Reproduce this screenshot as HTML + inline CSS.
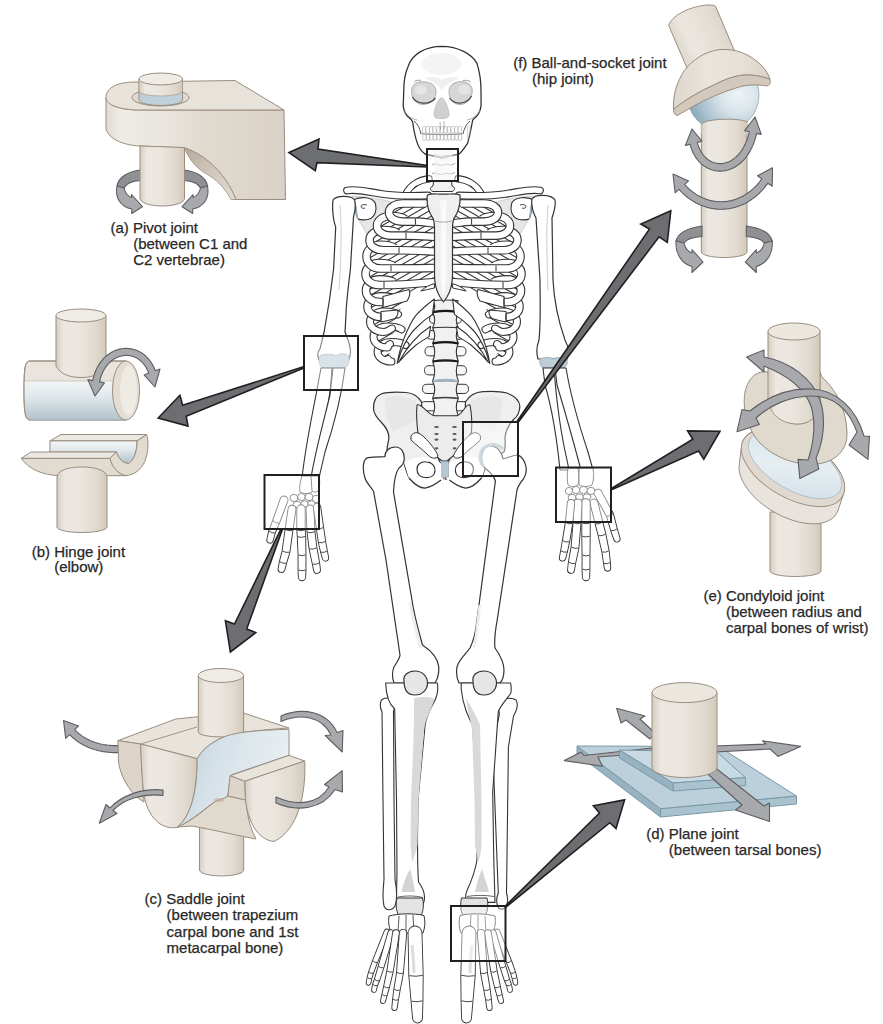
<!DOCTYPE html>
<html><head><meta charset="utf-8">
<style>
html,body{margin:0;padding:0;background:#fff;}
body{width:883px;height:1024px;overflow:hidden;position:relative;}
svg{position:absolute;left:0;top:0;display:block;}
text{font-family:"Liberation Sans",sans-serif;font-size:15px;fill:#262626;stroke:#262626;stroke-width:0.25px;}
</style></head><body>
<svg width="883" height="1024" viewBox="0 0 883 1024">
<g id="skel"><path d="M352,196 C362,196 372,198 384,200 L395,203 C388,214 380,228 373,244 C365,232 359,220 353,210 Z" fill="#e6e6e6" stroke="#bbb" stroke-width="0.6" stroke-linejoin="round" />
<path d="M352.6,200.4 C357,197.5 361,197.2 365.9,197.8 C371,198.5 375,201 375.6,204.5 C376.5,208 376,211 375,213.6 C373,217.5 369.5,219.8 365.9,219.8 C362,220 359,219.5 357.7,218.7 C356,214 355.5,209 355.7,206.5 C355,204 354,202 352.6,200.4 Z" fill="#fff" stroke="#333333" stroke-width="1.1" stroke-linejoin="round" />
<path d="M366.9,205 C364,204 361,204.8 361,206.8 C361.5,208.5 364,208.6 365,208" fill="none" stroke="#333" stroke-width="0.9"/><path d="M355.9,206 L357.4,219" stroke="#9fb3c0" stroke-width="1.4" fill="none"/><g transform="translate(887.0,0) scale(-1,1)"><path d="M352,196 C362,196 372,198 384,200 L395,203 C388,214 380,228 373,244 C365,232 359,220 353,210 Z" fill="#e6e6e6" stroke="#bbb" stroke-width="0.6" stroke-linejoin="round" />
<path d="M352.6,200.4 C357,197.5 361,197.2 365.9,197.8 C371,198.5 375,201 375.6,204.5 C376.5,208 376,211 375,213.6 C373,217.5 369.5,219.8 365.9,219.8 C362,220 359,219.5 357.7,218.7 C356,214 355.5,209 355.7,206.5 C355,204 354,202 352.6,200.4 Z" fill="#fff" stroke="#333333" stroke-width="1.1" stroke-linejoin="round" />
<path d="M366.9,205 C364,204 361,204.8 361,206.8 C361.5,208.5 364,208.6 365,208" fill="none" stroke="#333" stroke-width="0.9"/><path d="M355.9,206 L357.4,219" stroke="#9fb3c0" stroke-width="1.4" fill="none"/></g>
<path d="M432.7,300.8 C436.7,299.8 454.3,299.8 458.3,300.8 C455.9,304.22 455.9,308.78 458.3,312.2 C454.3,313.2 436.7,313.2 432.7,312.2 C435.1,308.78 435.1,304.22 432.7,300.8 Z" fill="#f1f1f1" stroke="#333333" stroke-width="1.1" stroke-linejoin="round" />
<path d="M435.5,314.801 L433.784,314.801 C430.3568,314.801 429.5,316.943 429.5,319.085 C429.5,321.227 430.3568,323.36899999999997 433.784,323.36899999999997 L435.5,323.36899999999997 Z" fill="#f7f7f7" stroke="#333333" stroke-width="1.0" stroke-linejoin="round" />
<path d="M455.5,314.801 L457.216,314.801 C460.6432,314.801 461.5,316.943 461.5,319.085 C461.5,321.227 460.6432,323.36899999999997 457.216,323.36899999999997 L455.5,323.36899999999997 Z" fill="#f7f7f7" stroke="#333333" stroke-width="1.0" stroke-linejoin="round" />
<path d="M432.7,312.2 C436.7,311.2 454.3,311.2 458.3,312.2 C455.9,316.78999999999996 455.9,322.90999999999997 458.3,327.5 C454.3,328.5 436.7,328.5 432.7,327.5 C435.1,322.90999999999997 435.1,316.78999999999996 432.7,312.2 Z" fill="#f1f1f1" stroke="#333333" stroke-width="1.1" stroke-linejoin="round" />
<path d="M435.5,330.601 L430.784,330.601 C427.3568,330.601 426.5,332.743 426.5,334.885 C426.5,337.027 427.3568,339.169 430.784,339.169 L435.5,339.169 Z" fill="#f7f7f7" stroke="#333333" stroke-width="1.0" stroke-linejoin="round" />
<path d="M455.5,330.601 L460.216,330.601 C463.6432,330.601 464.5,332.743 464.5,334.885 C464.5,337.027 463.6432,339.169 460.216,339.169 L455.5,339.169 Z" fill="#f7f7f7" stroke="#333333" stroke-width="1.0" stroke-linejoin="round" />
<path d="M432.7,328 C436.7,327 454.3,327 458.3,328 C455.9,332.59000000000003 455.9,338.71000000000004 458.3,343.3 C454.3,344.3 436.7,344.3 432.7,343.3 C435.1,338.71000000000004 435.1,332.59000000000003 432.7,328 Z" fill="#f1f1f1" stroke="#333333" stroke-width="1.1" stroke-linejoin="round" />
<path d="M435.5,346.66499999999996 L429.6,346.66499999999996 C425.92,346.66499999999996 425.0,348.965 425.0,351.265 C425.0,353.565 425.92,355.865 429.6,355.865 L435.5,355.865 Z" fill="#f7f7f7" stroke="#333333" stroke-width="1.0" stroke-linejoin="round" />
<path d="M455.5,346.66499999999996 L461.4,346.66499999999996 C465.08,346.66499999999996 466.0,348.965 466.0,351.265 C466.0,353.565 465.08,355.865 461.4,355.865 L455.5,355.865 Z" fill="#f7f7f7" stroke="#333333" stroke-width="1.0" stroke-linejoin="round" />
<path d="M432.7,343.3 C436.7,342.3 454.3,342.3 458.3,343.3 C455.9,348.61 455.9,355.69 458.3,361 C454.3,362 436.7,362 432.7,361 C435.1,355.69 435.1,348.61 432.7,343.3 Z" fill="#f1f1f1" stroke="#333333" stroke-width="1.1" stroke-linejoin="round" />
<path d="M435.5,365.695 L429.1,365.695 C425.42,365.695 424.5,367.995 424.5,370.295 C424.5,372.595 425.42,374.89500000000004 429.1,374.89500000000004 L435.5,374.89500000000004 Z" fill="#f7f7f7" stroke="#333333" stroke-width="1.0" stroke-linejoin="round" />
<path d="M455.5,365.695 L461.9,365.695 C465.58,365.695 466.5,367.995 466.5,370.295 C466.5,372.595 465.58,374.89500000000004 461.9,374.89500000000004 L455.5,374.89500000000004 Z" fill="#f7f7f7" stroke="#333333" stroke-width="1.0" stroke-linejoin="round" />
<path d="M432.7,361.7 C436.7,360.7 454.3,360.7 458.3,361.7 C455.9,367.43 455.9,375.07 458.3,380.8 C454.3,381.8 436.7,381.8 432.7,380.8 C435.1,375.07 435.1,367.43 432.7,361.7 Z" fill="#f1f1f1" stroke="#333333" stroke-width="1.1" stroke-linejoin="round" />
<path d="M435.5,384.27 L427.1,384.27 C423.42,384.27 422.5,386.57 422.5,388.87 C422.5,391.17 423.42,393.47 427.1,393.47 L435.5,393.47 Z" fill="#f7f7f7" stroke="#333333" stroke-width="1.0" stroke-linejoin="round" />
<path d="M455.5,384.27 L463.9,384.27 C467.58,384.27 468.5,386.57 468.5,388.87 C468.5,391.17 467.58,393.47 463.9,393.47 L455.5,393.47 Z" fill="#f7f7f7" stroke="#333333" stroke-width="1.0" stroke-linejoin="round" />
<path d="M432.7,381.4 C436.7,380.4 454.3,380.4 458.3,381.4 C455.9,386.38 455.9,393.02 458.3,398 C454.3,399 436.7,399 432.7,398 C435.1,393.02 435.1,386.38 432.7,381.4 Z" fill="#f1f1f1" stroke="#333333" stroke-width="1.1" stroke-linejoin="round" />
<path d="M435.5,401.64 L425.1,401.64 C421.42,401.64 420.5,403.94 420.5,406.24 C420.5,408.54 421.42,410.84000000000003 425.1,410.84000000000003 L435.5,410.84000000000003 Z" fill="#f7f7f7" stroke="#333333" stroke-width="1.0" stroke-linejoin="round" />
<path d="M455.5,401.64 L465.9,401.64 C469.58,401.64 470.5,403.94 470.5,406.24 C470.5,408.54 469.58,410.84000000000003 465.9,410.84000000000003 L455.5,410.84000000000003 Z" fill="#f7f7f7" stroke="#333333" stroke-width="1.0" stroke-linejoin="round" />
<path d="M432.7,398.5 C436.7,397.5 454.3,397.5 458.3,398.5 C455.9,403.65999999999997 455.9,410.53999999999996 458.3,415.7 C454.3,416.7 436.7,416.7 432.7,415.7 C435.1,410.53999999999996 435.1,403.65999999999997 432.7,398.5 Z" fill="#f1f1f1" stroke="#333333" stroke-width="1.1" stroke-linejoin="round" />
<path d="M433,312.2 C440,310.8 451,310.8 458,312.2" fill="none" stroke="#1a1a1a" stroke-width="2.2"/><path d="M433,343.3 C440,341.90000000000003 451,341.90000000000003 458,343.3" fill="none" stroke="#1a1a1a" stroke-width="2.2"/><path d="M433,361.5 C440,360.1 451,360.1 458,361.5" fill="none" stroke="#1a1a1a" stroke-width="2.2"/><path d="M433,381.2 C440,379.8 451,379.8 458,381.2" fill="none" stroke="#9fb3c0" stroke-width="2.4"/><path d="M434.5,398.3 C440,397 451,397 456.5,398.3" fill="none" stroke="#444" stroke-width="1.4"/><clipPath id="thx"><path d="M404,199 C392,203 372,225 367,255 C364,285 366,320 379,363 L388,362 L392,340 L397,318 L404,300 L420,290 L437,287 L450,287 L467,290 L483,300 L490,318 L495,340 L499,362 L508,363 C521,320 523,285 520,255 C515,225 495,203 483,199 Z"/></clipPath><clipPath id="thl"><rect x="355" y="195" width="88.5" height="180"/></clipPath><clipPath id="thr"><rect x="443.5" y="195" width="90" height="180"/></clipPath><g clip-path="url(#thx)"><rect x="360" y="195" width="170" height="175" fill="#fff"/><path d="M350,168.5 L450,110.8 M350,174.8 L450,117.1 M350,181.1 L450,123.4 M350,187.4 L450,129.7 M350,193.7 L450,136.0 M350,200.0 L450,142.3 M350,206.3 L450,148.6 M350,212.6 L450,154.9 M350,218.9 L450,161.2 M350,225.2 L450,167.5 M350,231.5 L450,173.8 M350,237.8 L450,180.1 M350,244.1 L450,186.4 M350,250.4 L450,192.7 M350,256.7 L450,199.0 M350,263.0 L450,205.3 M350,269.3 L450,211.6 M350,275.6 L450,217.9 M350,281.9 L450,224.2 M350,288.2 L450,230.5 M350,294.5 L450,236.8 M350,300.8 L450,243.1 M350,307.1 L450,249.4 M350,313.4 L450,255.7 M350,319.7 L450,262.0 M350,326.0 L450,268.3 M350,332.3 L450,274.6 M350,338.6 L450,280.9 M350,344.9 L450,287.2 M350,351.2 L450,293.5 M350,357.5 L450,299.8 M350,363.8 L450,306.1 M350,370.1 L450,312.4 M350,376.4 L450,318.7 M350,382.7 L450,325.0 M350,389.0 L450,331.3 M350,395.3 L450,337.6 M350,401.6 L450,343.9 M350,407.9 L450,350.2 M350,414.2 L450,356.5 M350,420.5 L450,362.8 M350,426.8 L450,369.1 M350,433.1 L450,375.4 M350,439.4 L450,381.7 M350,445.7 L450,388.0 M350,452.0 L450,394.3 M350,458.3 L450,400.6 M350,464.6 L450,406.9 M350,470.9 L450,413.2 M350,477.2 L450,419.5 M350,483.5 L450,425.8 M350,489.8 L450,432.1 M350,496.1 L450,438.4 M350,502.4 L450,444.7 M350,508.7 L450,451.0 M350,515.0 L450,457.3 M350,521.3 L450,463.6 M350,527.6 L450,469.9 M350,533.9 L450,476.2 M350,540.2 L450,482.5 M350,546.5 L450,488.8 M350,552.8 L450,495.1 M350,559.1 L450,501.4 M350,565.4 L450,507.7 M350,571.7 L450,514.0 " stroke="#333" stroke-width="1.05" fill="none" clip-path="url(#thl)"/><path d="M537,168.5 L437,110.8 M537,174.8 L437,117.1 M537,181.1 L437,123.4 M537,187.4 L437,129.7 M537,193.7 L437,136.0 M537,200.0 L437,142.3 M537,206.3 L437,148.6 M537,212.6 L437,154.9 M537,218.9 L437,161.2 M537,225.2 L437,167.5 M537,231.5 L437,173.8 M537,237.8 L437,180.1 M537,244.1 L437,186.4 M537,250.4 L437,192.7 M537,256.7 L437,199.0 M537,263.0 L437,205.3 M537,269.3 L437,211.6 M537,275.6 L437,217.9 M537,281.9 L437,224.2 M537,288.2 L437,230.5 M537,294.5 L437,236.8 M537,300.8 L437,243.1 M537,307.1 L437,249.4 M537,313.4 L437,255.7 M537,319.7 L437,262.0 M537,326.0 L437,268.3 M537,332.3 L437,274.6 M537,338.6 L437,280.9 M537,344.9 L437,287.2 M537,351.2 L437,293.5 M537,357.5 L437,299.8 M537,363.8 L437,306.1 M537,370.1 L437,312.4 M537,376.4 L437,318.7 M537,382.7 L437,325.0 M537,389.0 L437,331.3 M537,395.3 L437,337.6 M537,401.6 L437,343.9 M537,407.9 L437,350.2 M537,414.2 L437,356.5 M537,420.5 L437,362.8 M537,426.8 L437,369.1 M537,433.1 L437,375.4 M537,439.4 L437,381.7 M537,445.7 L437,388.0 M537,452.0 L437,394.3 M537,458.3 L437,400.6 M537,464.6 L437,406.9 M537,470.9 L437,413.2 M537,477.2 L437,419.5 M537,483.5 L437,425.8 M537,489.8 L437,432.1 M537,496.1 L437,438.4 M537,502.4 L437,444.7 M537,508.7 L437,451.0 M537,515.0 L437,457.3 M537,521.3 L437,463.6 M537,527.6 L437,469.9 M537,533.9 L437,476.2 M537,540.2 L437,482.5 M537,546.5 L437,488.8 M537,552.8 L437,495.1 M537,559.1 L437,501.4 M537,565.4 L437,507.7 M537,571.7 L437,514.0 " stroke="#333" stroke-width="1.05" fill="none" clip-path="url(#thr)"/></g><path d="M405.5,345.0 C401.5,342.0 394.5,342.0 391.5,342.0 C383.1,342.0 377.5,346.4 377.5,351.8 C377.5,357.1 383.1,361.5 391.5,361.5 C389.75,361.5 385,360.0 388,359.0" fill="none" stroke="#333333" stroke-width="8.0" stroke-linecap="round" stroke-linejoin="round"/><path d="M405.5,345.0 C401.5,342.0 394.5,342.0 391.5,342.0 C383.1,342.0 377.5,346.4 377.5,351.8 C377.5,357.1 383.1,361.5 391.5,361.5 C389.75,361.5 385,360.0 388,359.0" fill="none" stroke="#ffffff" stroke-width="5.8" stroke-linecap="round" stroke-linejoin="round"/>
<path d="M401.5,329.4 C397.5,326.4 390.5,326.4 387.5,326.4 C379.1,326.4 373.5,331.1 373.5,336.9 C373.5,342.8 379.1,347.5 387.5,347.5 C388.75,347.5 387,345.0 390,344.0" fill="none" stroke="#333333" stroke-width="8.0" stroke-linecap="round" stroke-linejoin="round"/><path d="M401.5,329.4 C397.5,326.4 390.5,326.4 387.5,326.4 C379.1,326.4 373.5,331.1 373.5,336.9 C373.5,342.8 379.1,347.5 387.5,347.5 C388.75,347.5 387,345.0 390,344.0" fill="none" stroke="#ffffff" stroke-width="5.8" stroke-linecap="round" stroke-linejoin="round"/>
<path d="M398.0,314.4 C394.0,311.4 387.0,311.4 384.0,311.4 C375.6,311.4 370.0,316.0 370.0,321.7 C370.0,327.4 375.6,332.0 384.0,332.0 C388.0,332.0 389,329.5 392,328.5" fill="none" stroke="#333333" stroke-width="8.0" stroke-linecap="round" stroke-linejoin="round"/><path d="M398.0,314.4 C394.0,311.4 387.0,311.4 384.0,311.4 C375.6,311.4 370.0,316.0 370.0,321.7 C370.0,327.4 375.6,332.0 384.0,332.0 C388.0,332.0 389,329.5 392,328.5" fill="none" stroke="#ffffff" stroke-width="5.8" stroke-linecap="round" stroke-linejoin="round"/>
<path d="M395.5,299.4 C391.5,296.4 384.5,296.4 381.5,296.4 C373.1,296.4 367.5,301.0 367.5,306.7 C367.5,312.4 373.1,317.0 381.5,317.0 L381.0,317.0" fill="none" stroke="#333333" stroke-width="8.600000000000001" stroke-linecap="butt" stroke-linejoin="round"/><path d="M395.5,299.4 C391.5,296.4 384.5,296.4 381.5,296.4 C373.1,296.4 367.5,301.0 367.5,306.7 C367.5,312.4 373.1,317.0 381.5,317.0 L381.0,317.0" fill="none" stroke="#ffffff" stroke-width="6.4" stroke-linecap="butt" stroke-linejoin="round"/>
<path d="M381,311.5 C387,311 392,310.5 397.5,310 C398.5,312.5 397.5,316 395,318.5 C390,320 386,321 381,322 Z" fill="#ffffff" stroke="#333333" stroke-width="1.1" stroke-linejoin="round" />
<path d="M381.0,314.0 L381.0,320.0" stroke="#333" stroke-width="1"/><path d="M394.0,282.4 C390.0,279.4 383.0,279.4 380.0,279.4 C371.6,279.4 366.0,284.5 366.0,290.7 C366.0,296.9 371.6,302.0 380.0,302.0 L383.0,302.0" fill="none" stroke="#333333" stroke-width="8.600000000000001" stroke-linecap="butt" stroke-linejoin="round"/><path d="M394.0,282.4 C390.0,279.4 383.0,279.4 380.0,279.4 C371.6,279.4 366.0,284.5 366.0,290.7 C366.0,296.9 371.6,302.0 380.0,302.0 L383.0,302.0" fill="none" stroke="#ffffff" stroke-width="6.4" stroke-linecap="butt" stroke-linejoin="round"/>
<path d="M383,296.5 C392,294 401,291.5 409,289.5 C410.5,292 410,297 407,301 C399,303.5 391,305.5 383,307.5 Z" fill="#ffffff" stroke="#333333" stroke-width="1.1" stroke-linejoin="round" />
<path d="M383.0,299.0 L383.0,305.0" stroke="#333" stroke-width="1"/><path d="M393.5,266.0 C389.5,263.0 382.5,263.0 379.5,263.0 C371.1,263.0 365.5,267.9 365.5,274.0 C365.5,280.1 371.1,285.0 379.5,285.0 L384.0,285.0" fill="none" stroke="#333333" stroke-width="8.600000000000001" stroke-linecap="butt" stroke-linejoin="round"/><path d="M393.5,266.0 C389.5,263.0 382.5,263.0 379.5,263.0 C371.1,263.0 365.5,267.9 365.5,274.0 C365.5,280.1 371.1,285.0 379.5,285.0 L384.0,285.0" fill="none" stroke="#ffffff" stroke-width="6.4" stroke-linecap="butt" stroke-linejoin="round"/>
<path d="M384.0,285.0 C410.0,285.0 430,282.0 436,282.0" fill="none" stroke="#333333" stroke-width="8.600000000000001" stroke-linecap="butt" stroke-linejoin="round"/><path d="M384.0,285.0 C410.0,285.0 430,282.0 436,282.0" fill="none" stroke="#ffffff" stroke-width="6.4" stroke-linecap="butt" stroke-linejoin="round"/>
<path d="M384.0,282.0 L384.0,288.0" stroke="#333" stroke-width="1"/><path d="M394.5,247.7 C390.5,244.7 383.5,244.7 380.5,244.7 C372.1,244.7 366.5,250.1 366.5,256.6 C366.5,263.1 372.1,268.5 380.5,268.5 L391.0,268.5" fill="none" stroke="#333333" stroke-width="8.600000000000001" stroke-linecap="butt" stroke-linejoin="round"/><path d="M394.5,247.7 C390.5,244.7 383.5,244.7 380.5,244.7 C372.1,244.7 366.5,250.1 366.5,256.6 C366.5,263.1 372.1,268.5 380.5,268.5 L391.0,268.5" fill="none" stroke="#ffffff" stroke-width="6.4" stroke-linecap="butt" stroke-linejoin="round"/>
<path d="M391.0,268.5 C413.5,268.5 430,268.0 436,268.0" fill="none" stroke="#333333" stroke-width="8.600000000000001" stroke-linecap="butt" stroke-linejoin="round"/><path d="M391.0,268.5 C413.5,268.5 430,268.0 436,268.0" fill="none" stroke="#ffffff" stroke-width="6.4" stroke-linecap="butt" stroke-linejoin="round"/>
<path d="M391.0,265.5 L391.0,271.5" stroke="#333" stroke-width="1"/><path d="M397.5,233.0 C393.5,230.0 386.5,230.0 383.5,230.0 C375.1,230.0 369.5,234.6 369.5,240.2 C369.5,245.7 375.1,250.3 383.5,250.3 L399.0,250.3" fill="none" stroke="#333333" stroke-width="8.600000000000001" stroke-linecap="butt" stroke-linejoin="round"/><path d="M397.5,233.0 C393.5,230.0 386.5,230.0 383.5,230.0 C375.1,230.0 369.5,234.6 369.5,240.2 C369.5,245.7 375.1,250.3 383.5,250.3 L399.0,250.3" fill="none" stroke="#ffffff" stroke-width="6.4" stroke-linecap="butt" stroke-linejoin="round"/>
<path d="M399.0,250.3 C417.5,250.3 430,251.5 436,251.5" fill="none" stroke="#333333" stroke-width="8.600000000000001" stroke-linecap="butt" stroke-linejoin="round"/><path d="M399.0,250.3 C417.5,250.3 430,251.5 436,251.5" fill="none" stroke="#ffffff" stroke-width="6.4" stroke-linecap="butt" stroke-linejoin="round"/>
<path d="M399.0,247.3 L399.0,253.3" stroke="#333" stroke-width="1"/><path d="M405.0,219.0 C401.0,216.0 394.0,216.0 391.0,216.0 C382.6,216.0 377.0,220.4 377.0,225.8 C377.0,231.2 382.6,235.6 391.0,235.6 L406.0,235.6" fill="none" stroke="#333333" stroke-width="8.600000000000001" stroke-linecap="butt" stroke-linejoin="round"/><path d="M405.0,219.0 C401.0,216.0 394.0,216.0 391.0,216.0 C382.6,216.0 377.0,220.4 377.0,225.8 C377.0,231.2 382.6,235.6 391.0,235.6 L406.0,235.6" fill="none" stroke="#ffffff" stroke-width="6.4" stroke-linecap="butt" stroke-linejoin="round"/>
<path d="M406.0,235.6 C421.0,235.6 430,236.8 436,236.8" fill="none" stroke="#333333" stroke-width="8.600000000000001" stroke-linecap="butt" stroke-linejoin="round"/><path d="M406.0,235.6 C421.0,235.6 430,236.8 436,236.8" fill="none" stroke="#ffffff" stroke-width="6.4" stroke-linecap="butt" stroke-linejoin="round"/>
<path d="M406.0,232.6 L406.0,238.6" stroke="#333" stroke-width="1"/><path d="M426,203.5 L403.0,203.5 C394.6,203.5 389.0,207.6 389.0,212.6 C389.0,217.5 394.6,221.6 403.0,221.6 L415.4,221.6" fill="none" stroke="#333333" stroke-width="8.600000000000001" stroke-linecap="butt" stroke-linejoin="round"/><path d="M426,203.5 L403.0,203.5 C394.6,203.5 389.0,207.6 389.0,212.6 C389.0,217.5 394.6,221.6 403.0,221.6 L415.4,221.6" fill="none" stroke="#ffffff" stroke-width="6.4" stroke-linecap="butt" stroke-linejoin="round"/>
<path d="M415.4,221.6 C425.7,221.6 430,223.5 436,223.5" fill="none" stroke="#333333" stroke-width="8.600000000000001" stroke-linecap="butt" stroke-linejoin="round"/><path d="M415.4,221.6 C425.7,221.6 430,223.5 436,223.5" fill="none" stroke="#ffffff" stroke-width="6.4" stroke-linecap="butt" stroke-linejoin="round"/>
<path d="M415.4,218.6 L415.4,224.6" stroke="#333" stroke-width="1"/><path d="M434.4,299 C425,306 418,313 415.3,316.2 C411,322 409,327 407.2,330.7 C403,340 399,352 397.2,363.4 C399,358 400,356 400.8,352.5 C405,342 410,333 417,327 C422,322 427,318 432.5,314.4 Z" fill="#ffffff" stroke="#333333" stroke-width="1.1" stroke-linejoin="round" />
<path d="M430.7,326.2 C420,333 408,345 398.5,362.5 C404,356 410,350 416,345 C420,342 425,339 429,336.6 Z" fill="#ffffff" stroke="#333333" stroke-width="1.1" stroke-linejoin="round" />
<path d="M420.8,291 C425,287 430,285 434.4,283.6 L434.4,288 C430,289 425,290 420.8,291 Z" fill="#ffffff" stroke="#333333" stroke-width="1.0" stroke-linejoin="round" />
<g transform="translate(887.0,0) scale(-1,1)"><path d="M405.5,345.0 C401.5,342.0 394.5,342.0 391.5,342.0 C383.1,342.0 377.5,346.4 377.5,351.8 C377.5,357.1 383.1,361.5 391.5,361.5 C389.75,361.5 385,360.0 388,359.0" fill="none" stroke="#333333" stroke-width="8.0" stroke-linecap="round" stroke-linejoin="round"/><path d="M405.5,345.0 C401.5,342.0 394.5,342.0 391.5,342.0 C383.1,342.0 377.5,346.4 377.5,351.8 C377.5,357.1 383.1,361.5 391.5,361.5 C389.75,361.5 385,360.0 388,359.0" fill="none" stroke="#ffffff" stroke-width="5.8" stroke-linecap="round" stroke-linejoin="round"/>
<path d="M401.5,329.4 C397.5,326.4 390.5,326.4 387.5,326.4 C379.1,326.4 373.5,331.1 373.5,336.9 C373.5,342.8 379.1,347.5 387.5,347.5 C388.75,347.5 387,345.0 390,344.0" fill="none" stroke="#333333" stroke-width="8.0" stroke-linecap="round" stroke-linejoin="round"/><path d="M401.5,329.4 C397.5,326.4 390.5,326.4 387.5,326.4 C379.1,326.4 373.5,331.1 373.5,336.9 C373.5,342.8 379.1,347.5 387.5,347.5 C388.75,347.5 387,345.0 390,344.0" fill="none" stroke="#ffffff" stroke-width="5.8" stroke-linecap="round" stroke-linejoin="round"/>
<path d="M398.0,314.4 C394.0,311.4 387.0,311.4 384.0,311.4 C375.6,311.4 370.0,316.0 370.0,321.7 C370.0,327.4 375.6,332.0 384.0,332.0 C388.0,332.0 389,329.5 392,328.5" fill="none" stroke="#333333" stroke-width="8.0" stroke-linecap="round" stroke-linejoin="round"/><path d="M398.0,314.4 C394.0,311.4 387.0,311.4 384.0,311.4 C375.6,311.4 370.0,316.0 370.0,321.7 C370.0,327.4 375.6,332.0 384.0,332.0 C388.0,332.0 389,329.5 392,328.5" fill="none" stroke="#ffffff" stroke-width="5.8" stroke-linecap="round" stroke-linejoin="round"/>
<path d="M395.5,299.4 C391.5,296.4 384.5,296.4 381.5,296.4 C373.1,296.4 367.5,301.0 367.5,306.7 C367.5,312.4 373.1,317.0 381.5,317.0 L381.0,317.0" fill="none" stroke="#333333" stroke-width="8.600000000000001" stroke-linecap="butt" stroke-linejoin="round"/><path d="M395.5,299.4 C391.5,296.4 384.5,296.4 381.5,296.4 C373.1,296.4 367.5,301.0 367.5,306.7 C367.5,312.4 373.1,317.0 381.5,317.0 L381.0,317.0" fill="none" stroke="#ffffff" stroke-width="6.4" stroke-linecap="butt" stroke-linejoin="round"/>
<path d="M381,311.5 C387,311 392,310.5 397.5,310 C398.5,312.5 397.5,316 395,318.5 C390,320 386,321 381,322 Z" fill="#ffffff" stroke="#333333" stroke-width="1.1" stroke-linejoin="round" />
<path d="M381.0,314.0 L381.0,320.0" stroke="#333" stroke-width="1"/><path d="M394.0,282.4 C390.0,279.4 383.0,279.4 380.0,279.4 C371.6,279.4 366.0,284.5 366.0,290.7 C366.0,296.9 371.6,302.0 380.0,302.0 L383.0,302.0" fill="none" stroke="#333333" stroke-width="8.600000000000001" stroke-linecap="butt" stroke-linejoin="round"/><path d="M394.0,282.4 C390.0,279.4 383.0,279.4 380.0,279.4 C371.6,279.4 366.0,284.5 366.0,290.7 C366.0,296.9 371.6,302.0 380.0,302.0 L383.0,302.0" fill="none" stroke="#ffffff" stroke-width="6.4" stroke-linecap="butt" stroke-linejoin="round"/>
<path d="M383,296.5 C392,294 401,291.5 409,289.5 C410.5,292 410,297 407,301 C399,303.5 391,305.5 383,307.5 Z" fill="#ffffff" stroke="#333333" stroke-width="1.1" stroke-linejoin="round" />
<path d="M383.0,299.0 L383.0,305.0" stroke="#333" stroke-width="1"/><path d="M393.5,266.0 C389.5,263.0 382.5,263.0 379.5,263.0 C371.1,263.0 365.5,267.9 365.5,274.0 C365.5,280.1 371.1,285.0 379.5,285.0 L384.0,285.0" fill="none" stroke="#333333" stroke-width="8.600000000000001" stroke-linecap="butt" stroke-linejoin="round"/><path d="M393.5,266.0 C389.5,263.0 382.5,263.0 379.5,263.0 C371.1,263.0 365.5,267.9 365.5,274.0 C365.5,280.1 371.1,285.0 379.5,285.0 L384.0,285.0" fill="none" stroke="#ffffff" stroke-width="6.4" stroke-linecap="butt" stroke-linejoin="round"/>
<path d="M384.0,285.0 C410.0,285.0 430,282.0 436,282.0" fill="none" stroke="#333333" stroke-width="8.600000000000001" stroke-linecap="butt" stroke-linejoin="round"/><path d="M384.0,285.0 C410.0,285.0 430,282.0 436,282.0" fill="none" stroke="#ffffff" stroke-width="6.4" stroke-linecap="butt" stroke-linejoin="round"/>
<path d="M384.0,282.0 L384.0,288.0" stroke="#333" stroke-width="1"/><path d="M394.5,247.7 C390.5,244.7 383.5,244.7 380.5,244.7 C372.1,244.7 366.5,250.1 366.5,256.6 C366.5,263.1 372.1,268.5 380.5,268.5 L391.0,268.5" fill="none" stroke="#333333" stroke-width="8.600000000000001" stroke-linecap="butt" stroke-linejoin="round"/><path d="M394.5,247.7 C390.5,244.7 383.5,244.7 380.5,244.7 C372.1,244.7 366.5,250.1 366.5,256.6 C366.5,263.1 372.1,268.5 380.5,268.5 L391.0,268.5" fill="none" stroke="#ffffff" stroke-width="6.4" stroke-linecap="butt" stroke-linejoin="round"/>
<path d="M391.0,268.5 C413.5,268.5 430,268.0 436,268.0" fill="none" stroke="#333333" stroke-width="8.600000000000001" stroke-linecap="butt" stroke-linejoin="round"/><path d="M391.0,268.5 C413.5,268.5 430,268.0 436,268.0" fill="none" stroke="#ffffff" stroke-width="6.4" stroke-linecap="butt" stroke-linejoin="round"/>
<path d="M391.0,265.5 L391.0,271.5" stroke="#333" stroke-width="1"/><path d="M397.5,233.0 C393.5,230.0 386.5,230.0 383.5,230.0 C375.1,230.0 369.5,234.6 369.5,240.2 C369.5,245.7 375.1,250.3 383.5,250.3 L399.0,250.3" fill="none" stroke="#333333" stroke-width="8.600000000000001" stroke-linecap="butt" stroke-linejoin="round"/><path d="M397.5,233.0 C393.5,230.0 386.5,230.0 383.5,230.0 C375.1,230.0 369.5,234.6 369.5,240.2 C369.5,245.7 375.1,250.3 383.5,250.3 L399.0,250.3" fill="none" stroke="#ffffff" stroke-width="6.4" stroke-linecap="butt" stroke-linejoin="round"/>
<path d="M399.0,250.3 C417.5,250.3 430,251.5 436,251.5" fill="none" stroke="#333333" stroke-width="8.600000000000001" stroke-linecap="butt" stroke-linejoin="round"/><path d="M399.0,250.3 C417.5,250.3 430,251.5 436,251.5" fill="none" stroke="#ffffff" stroke-width="6.4" stroke-linecap="butt" stroke-linejoin="round"/>
<path d="M399.0,247.3 L399.0,253.3" stroke="#333" stroke-width="1"/><path d="M405.0,219.0 C401.0,216.0 394.0,216.0 391.0,216.0 C382.6,216.0 377.0,220.4 377.0,225.8 C377.0,231.2 382.6,235.6 391.0,235.6 L406.0,235.6" fill="none" stroke="#333333" stroke-width="8.600000000000001" stroke-linecap="butt" stroke-linejoin="round"/><path d="M405.0,219.0 C401.0,216.0 394.0,216.0 391.0,216.0 C382.6,216.0 377.0,220.4 377.0,225.8 C377.0,231.2 382.6,235.6 391.0,235.6 L406.0,235.6" fill="none" stroke="#ffffff" stroke-width="6.4" stroke-linecap="butt" stroke-linejoin="round"/>
<path d="M406.0,235.6 C421.0,235.6 430,236.8 436,236.8" fill="none" stroke="#333333" stroke-width="8.600000000000001" stroke-linecap="butt" stroke-linejoin="round"/><path d="M406.0,235.6 C421.0,235.6 430,236.8 436,236.8" fill="none" stroke="#ffffff" stroke-width="6.4" stroke-linecap="butt" stroke-linejoin="round"/>
<path d="M406.0,232.6 L406.0,238.6" stroke="#333" stroke-width="1"/><path d="M426,203.5 L403.0,203.5 C394.6,203.5 389.0,207.6 389.0,212.6 C389.0,217.5 394.6,221.6 403.0,221.6 L415.4,221.6" fill="none" stroke="#333333" stroke-width="8.600000000000001" stroke-linecap="butt" stroke-linejoin="round"/><path d="M426,203.5 L403.0,203.5 C394.6,203.5 389.0,207.6 389.0,212.6 C389.0,217.5 394.6,221.6 403.0,221.6 L415.4,221.6" fill="none" stroke="#ffffff" stroke-width="6.4" stroke-linecap="butt" stroke-linejoin="round"/>
<path d="M415.4,221.6 C425.7,221.6 430,223.5 436,223.5" fill="none" stroke="#333333" stroke-width="8.600000000000001" stroke-linecap="butt" stroke-linejoin="round"/><path d="M415.4,221.6 C425.7,221.6 430,223.5 436,223.5" fill="none" stroke="#ffffff" stroke-width="6.4" stroke-linecap="butt" stroke-linejoin="round"/>
<path d="M415.4,218.6 L415.4,224.6" stroke="#333" stroke-width="1"/><path d="M434.4,299 C425,306 418,313 415.3,316.2 C411,322 409,327 407.2,330.7 C403,340 399,352 397.2,363.4 C399,358 400,356 400.8,352.5 C405,342 410,333 417,327 C422,322 427,318 432.5,314.4 Z" fill="#ffffff" stroke="#333333" stroke-width="1.1" stroke-linejoin="round" />
<path d="M430.7,326.2 C420,333 408,345 398.5,362.5 C404,356 410,350 416,345 C420,342 425,339 429,336.6 Z" fill="#ffffff" stroke="#333333" stroke-width="1.1" stroke-linejoin="round" />
<path d="M420.8,291 C425,287 430,285 434.4,283.6 L434.4,288 C430,289 425,290 420.8,291 Z" fill="#ffffff" stroke="#333333" stroke-width="1.0" stroke-linejoin="round" />
</g>
<path d="M406.3,193 C410,186 418,180 429,178.8" fill="none" stroke="#333333" stroke-width="7.4" stroke-linecap="round" stroke-linejoin="round"/><path d="M406.3,193 C410,186 418,180 429,178.8" fill="none" stroke="#ffffff" stroke-width="5.2" stroke-linecap="round" stroke-linejoin="round"/>
<g transform="translate(887.0,0) scale(-1,1)"><path d="M406.3,193 C410,186 418,180 429,178.8" fill="none" stroke="#333333" stroke-width="7.4" stroke-linecap="round" stroke-linejoin="round"/><path d="M406.3,193 C410,186 418,180 429,178.8" fill="none" stroke="#ffffff" stroke-width="5.2" stroke-linecap="round" stroke-linejoin="round"/>
</g>
<path d="M347,190.5 C356,188.5 366,191.5 382,194 C398,196.5 414,196 428,195.5" fill="none" stroke="#333333" stroke-width="7.8" stroke-linecap="round" stroke-linejoin="round"/><path d="M347,190.5 C356,188.5 366,191.5 382,194 C398,196.5 414,196 428,195.5" fill="none" stroke="#ffffff" stroke-width="5.6" stroke-linecap="round" stroke-linejoin="round"/>
<g transform="translate(887.0,0) scale(-1,1)"><path d="M347,190.5 C356,188.5 366,191.5 382,194 C398,196.5 414,196 428,195.5" fill="none" stroke="#333333" stroke-width="7.8" stroke-linecap="round" stroke-linejoin="round"/><path d="M347,190.5 C356,188.5 366,191.5 382,194 C398,196.5 414,196 428,195.5" fill="none" stroke="#ffffff" stroke-width="5.6" stroke-linecap="round" stroke-linejoin="round"/>
</g>
<path d="M427.3,195 C432,193 437,194.5 443.5,194 C450,194.5 455,193 460,195 C460.5,203 459,210 455.5,216 C453,219 452.5,222 452.5,228 L452.5,275 C452.5,284 450,292 447,297 L443.5,302 L440,297 C437,292 434.5,284 434.5,275 L434.5,228 C434.5,222 434,219 431.5,216 C428,210 426.5,203 427.3,195 Z" fill="#efefef" stroke="#333333" stroke-width="1.2" stroke-linejoin="round" />
<path d="M440,200 C442,215 440.5,240 440.5,270 C440.5,282 442,290 443.5,296 C445,290 446.5,282 446.5,270 C446.5,240 445,215 447,200 Z" fill="#fafafa"/><path d="M435,221 C440,222.5 447,222.5 452,221" fill="none" stroke="#888" stroke-width="0.7"/><path d="M333,200 C336,195.5 351,195 354.6,200 C356,206 355,212 353.5,217 L350.4,269 C348,290 346,305 346,315 L345,332 C348,340 351,346 350.4,353 C350,356 349.5,358 349,360 L319,360 C317,355 318,351 320,348.8 L324.1,332 L329.4,300.5 L333.6,269 L335.7,227 C333,220 332,207 333,200 Z" fill="#ffffff" stroke="#333333" stroke-width="1.2" stroke-linejoin="round" />
<path d="M340,205 C342,230 341,260 339,290" stroke="#d0d0d0" stroke-width="1" fill="none"/><path d="M532,199 C535,194 551,194 555,200 C556,205 554,212 552,218 L553,280 C554,300 558,320 565,340 C568,345 569,352 567,359 L538,359 C536,352 537,345 539,340 C541,320 540,300 540,280 L536,218 C533,212 531,205 532,199 Z" fill="#ffffff" stroke="#333333" stroke-width="1.2" stroke-linejoin="round" />
<path d="M548,205 C546,230 547,260 548,290" stroke="#ccc" stroke-width="1" fill="none"/><path d="M320,356 C322,353 335,354 336,356 C338,353 348,353 349,357 C350,362 348,366 345,368 L322,368 C319,365 318,360 320,356 Z" fill="#bccdd8" stroke="#8aa0ad" stroke-width="0.7"/><path d="M540,359 C543,357 551,357 553,359 C556,357 564,357 567,360 C568,364 566,367 563,368 L543,368 C540,366 539,362 540,359 Z" fill="#bccdd8" stroke="#8aa0ad" stroke-width="0.7"/><path d="M321,368 L332,368 C331,392 326,420 318,450 L313,478 L302,478 C305,450 311,420 316,395 Z" fill="#ffffff" stroke="#333333" stroke-width="1.1" stroke-linejoin="round" />
<path d="M333,368 L345,368 C342,392 334,425 325,452 L319,478 L311,478 C315,452 324,420 330,395 Z" fill="#ffffff" stroke="#333333" stroke-width="1.1" stroke-linejoin="round" />
<path d="M543,368 L554,368 C556,395 560,430 567,460 L569,470 L560,470 C557,440 551,405 545,385 Z" fill="#ffffff" stroke="#333333" stroke-width="1.1" stroke-linejoin="round" />
<path d="M555,368 L566,368 C570,392 578,422 588,452 L593,470 L581,470 C573,440 563,405 557,385 Z" fill="#ffffff" stroke="#333333" stroke-width="1.1" stroke-linejoin="round" />
<path d="M302,476 L313,476 C314,482 314,488 312,492 C308,494 304,494 300,492 C299,488 300,482 302,476 Z" fill="#ffffff" stroke="#333333" stroke-width="0.9" stroke-linejoin="round" />
<path d="M311,476 L319,476 C320,482 320,487 318,491 C316,492.5 313,492.5 312,491 Z" fill="#ffffff" stroke="#333333" stroke-width="0.9" stroke-linejoin="round" />
<ellipse cx="294" cy="498" rx="4" ry="3.6" fill="#fff" stroke="#333" stroke-width="0.9"/><ellipse cx="301.5" cy="497" rx="3.8" ry="3.6" fill="#fff" stroke="#333" stroke-width="0.9"/><ellipse cx="309" cy="497" rx="4" ry="3.6" fill="#fff" stroke="#333" stroke-width="0.9"/><ellipse cx="316" cy="499" rx="3.6" ry="3.8" fill="#fff" stroke="#333" stroke-width="0.9"/><ellipse cx="297" cy="504.5" rx="4" ry="3.2" fill="#fff" stroke="#333" stroke-width="0.9"/><ellipse cx="304.5" cy="504" rx="3.8" ry="3.2" fill="#fff" stroke="#333" stroke-width="0.9"/><ellipse cx="311.5" cy="504" rx="3.8" ry="3.2" fill="#fff" stroke="#333" stroke-width="0.9"/><path d="M280.71,498.80 L272.95,520.89 A3.25,3.25 0 0 0 279.05,523.11 L287.29,501.20 A3.50,3.50 0 0 0 280.71,498.80 Z M272.98,520.79 L269.21,530.89 A3.00,3.00 0 0 0 274.79,533.11 L279.02,523.21 A3.25,3.25 0 0 0 272.98,520.79 Z M269.09,531.27 L267.33,539.33 A2.75,2.75 0 0 0 272.67,540.67 L274.91,532.73 A3.00,3.00 0 0 0 269.09,531.27 Z" fill="none" stroke="#333333" stroke-width="1.8" stroke-linejoin="round"/><path d="M280.71,498.80 L272.95,520.89 A3.25,3.25 0 0 0 279.05,523.11 L287.29,501.20 A3.50,3.50 0 0 0 280.71,498.80 Z M272.98,520.79 L269.21,530.89 A3.00,3.00 0 0 0 274.79,533.11 L279.02,523.21 A3.25,3.25 0 0 0 272.98,520.79 Z M269.09,531.27 L267.33,539.33 A2.75,2.75 0 0 0 272.67,540.67 L274.91,532.73 A3.00,3.00 0 0 0 269.09,531.27 Z" fill="#ffffff" stroke="none"/><path d="M272.96,520.86 Q275.47,523.40 279.04,523.14 M269.15,531.05 Q271.53,533.42 274.85,532.95 " fill="none" stroke="#333333" stroke-width="0.9"/>
<path d="M288.54,508.51 L285.54,529.51 A3.50,3.50 0 0 0 292.46,530.49 L295.46,509.49 A3.50,3.50 0 0 0 288.54,508.51 Z M285.53,529.52 L282.53,551.12 A3.50,3.50 0 0 0 289.47,552.08 L292.47,530.48 A3.50,3.50 0 0 0 285.53,529.52 Z M282.63,550.66 L279.87,561.53 A3.25,3.25 0 0 0 286.13,563.27 L289.37,552.54 A3.50,3.50 0 0 0 282.63,550.66 Z M279.83,561.68 L278.57,568.34 A3.00,3.00 0 0 0 284.43,569.66 L286.17,563.12 A3.25,3.25 0 0 0 279.83,561.68 Z" fill="none" stroke="#333333" stroke-width="1.8" stroke-linejoin="round"/><path d="M288.54,508.51 L285.54,529.51 A3.50,3.50 0 0 0 292.46,530.49 L295.46,509.49 A3.50,3.50 0 0 0 288.54,508.51 Z M285.53,529.52 L282.53,551.12 A3.50,3.50 0 0 0 289.47,552.08 L292.47,530.48 A3.50,3.50 0 0 0 285.53,529.52 Z M282.63,550.66 L279.87,561.53 A3.25,3.25 0 0 0 286.13,563.27 L289.37,552.54 A3.50,3.50 0 0 0 282.63,550.66 Z M279.83,561.68 L278.57,568.34 A3.00,3.00 0 0 0 284.43,569.66 L286.17,563.12 A3.25,3.25 0 0 0 279.83,561.68 Z" fill="#ffffff" stroke="none"/><path d="M285.53,529.51 Q288.79,531.49 292.47,530.49 M282.56,550.96 Q285.73,553.07 289.44,552.24 M279.85,561.59 Q282.62,563.85 286.15,563.21 " fill="none" stroke="#333333" stroke-width="0.9"/>
<path d="M297.25,509.00 L297.25,530.00 A3.75,3.75 0 0 0 304.75,530.00 L304.75,509.00 A3.75,3.75 0 0 0 297.25,509.00 Z M297.26,530.28 L297.76,536.88 A3.75,3.75 0 0 0 305.24,536.32 L304.74,529.72 A3.75,3.75 0 0 0 297.26,530.28 Z M297.75,536.70 L298.50,555.00 A3.50,3.50 0 0 0 305.50,554.80 L305.25,536.50 A3.75,3.75 0 0 0 297.75,536.70 Z M298.50,554.90 L298.50,570.00 A3.50,3.50 0 0 0 305.50,570.00 L305.50,554.90 A3.50,3.50 0 0 0 298.50,554.90 Z M298.50,570.00 L298.75,577.00 A3.25,3.25 0 0 0 305.25,577.00 L305.50,570.00 A3.50,3.50 0 0 0 298.50,570.00 Z" fill="none" stroke="#333333" stroke-width="1.8" stroke-linejoin="round"/><path d="M297.25,509.00 L297.25,530.00 A3.75,3.75 0 0 0 304.75,530.00 L304.75,509.00 A3.75,3.75 0 0 0 297.25,509.00 Z M297.26,530.28 L297.76,536.88 A3.75,3.75 0 0 0 305.24,536.32 L304.74,529.72 A3.75,3.75 0 0 0 297.26,530.28 Z M297.75,536.70 L298.50,555.00 A3.50,3.50 0 0 0 305.50,554.80 L305.25,536.50 A3.75,3.75 0 0 0 297.75,536.70 Z M298.50,554.90 L298.50,570.00 A3.50,3.50 0 0 0 305.50,570.00 L305.50,554.90 A3.50,3.50 0 0 0 298.50,554.90 Z M298.50,570.00 L298.75,577.00 A3.25,3.25 0 0 0 305.25,577.00 L305.50,570.00 A3.50,3.50 0 0 0 298.50,570.00 Z" fill="#ffffff" stroke="none"/><path d="M297.25,530.07 Q301.03,531.50 304.75,529.93 M297.75,536.75 Q301.56,538.10 305.25,536.45 M298.50,554.95 Q302.02,556.40 305.50,554.85 M298.50,570.00 Q302.00,571.50 305.50,570.00 " fill="none" stroke="#333333" stroke-width="0.9"/>
<path d="M306.50,509.15 L307.50,532.15 A3.50,3.50 0 0 0 314.50,531.85 L313.50,508.85 A3.50,3.50 0 0 0 306.50,509.15 Z M307.53,532.42 L309.53,548.82 A3.50,3.50 0 0 0 316.47,547.98 L314.47,531.58 A3.50,3.50 0 0 0 307.53,532.42 Z M309.57,549.08 L312.81,564.13 A3.25,3.25 0 0 0 319.19,562.87 L316.43,547.72 A3.50,3.50 0 0 0 309.57,549.08 Z M312.79,563.99 L314.03,570.46 A3.00,3.00 0 0 0 319.97,569.54 L319.21,563.01 A3.25,3.25 0 0 0 312.79,563.99 Z" fill="none" stroke="#333333" stroke-width="1.8" stroke-linejoin="round"/><path d="M306.50,509.15 L307.50,532.15 A3.50,3.50 0 0 0 314.50,531.85 L313.50,508.85 A3.50,3.50 0 0 0 306.50,509.15 Z M307.53,532.42 L309.53,548.82 A3.50,3.50 0 0 0 316.47,547.98 L314.47,531.58 A3.50,3.50 0 0 0 307.53,532.42 Z M309.57,549.08 L312.81,564.13 A3.25,3.25 0 0 0 319.19,562.87 L316.43,547.72 A3.50,3.50 0 0 0 309.57,549.08 Z M312.79,563.99 L314.03,570.46 A3.00,3.00 0 0 0 319.97,569.54 L319.21,563.01 A3.25,3.25 0 0 0 312.79,563.99 Z" fill="#ffffff" stroke="none"/><path d="M307.51,532.27 Q311.11,533.50 314.49,531.73 M309.54,548.95 Q313.24,549.88 316.46,547.85 M312.80,564.09 Q316.27,564.97 319.20,562.91 " fill="none" stroke="#333333" stroke-width="0.9"/>
<path d="M313.78,507.46 L316.78,528.46 A3.25,3.25 0 0 0 323.22,527.54 L320.22,506.54 A3.25,3.25 0 0 0 313.78,507.46 Z M316.78,528.46 L318.78,542.46 A3.25,3.25 0 0 0 325.22,541.54 L323.22,527.54 A3.25,3.25 0 0 0 316.78,528.46 Z M318.82,542.66 L321.06,552.21 A3.00,3.00 0 0 0 326.94,550.99 L325.18,541.34 A3.25,3.25 0 0 0 318.82,542.66 Z M321.08,552.28 L322.82,558.63 A2.75,2.75 0 0 0 328.18,557.37 L326.92,550.92 A3.00,3.00 0 0 0 321.08,552.28 Z" fill="none" stroke="#333333" stroke-width="1.8" stroke-linejoin="round"/><path d="M313.78,507.46 L316.78,528.46 A3.25,3.25 0 0 0 323.22,527.54 L320.22,506.54 A3.25,3.25 0 0 0 313.78,507.46 Z M316.78,528.46 L318.78,542.46 A3.25,3.25 0 0 0 325.22,541.54 L323.22,527.54 A3.25,3.25 0 0 0 316.78,528.46 Z M318.82,542.66 L321.06,552.21 A3.00,3.00 0 0 0 326.94,550.99 L325.18,541.34 A3.25,3.25 0 0 0 318.82,542.66 Z M321.08,552.28 L322.82,558.63 A2.75,2.75 0 0 0 328.18,557.37 L326.92,550.92 A3.00,3.00 0 0 0 321.08,552.28 Z" fill="#ffffff" stroke="none"/><path d="M316.78,528.46 Q320.21,529.48 323.22,527.54 M318.80,542.54 Q322.25,543.48 325.20,541.46 M321.07,552.24 Q324.32,553.07 326.93,550.96 " fill="none" stroke="#333333" stroke-width="0.9"/>
<path d="M568,468 L578,468 C579,474 579,480 578,485 C575,487 571,487 568,485 C567,480 567,474 568,468 Z" fill="#ffffff" stroke="#333333" stroke-width="0.9" stroke-linejoin="round" />
<path d="M579,468 L593,468 C594,474 594,480 592,485 C588,487 583,487 579,485 Z" fill="#ffffff" stroke="#333333" stroke-width="0.9" stroke-linejoin="round" />
<ellipse cx="569" cy="491" rx="3.6" ry="3.6" fill="#fff" stroke="#333" stroke-width="0.9"/><ellipse cx="576" cy="490" rx="3.8" ry="3.6" fill="#fff" stroke="#333" stroke-width="0.9"/><ellipse cx="583.5" cy="490" rx="4" ry="3.6" fill="#fff" stroke="#333" stroke-width="0.9"/><ellipse cx="591" cy="491" rx="4" ry="3.6" fill="#fff" stroke="#333" stroke-width="0.9"/><ellipse cx="572" cy="497.5" rx="3.8" ry="3.2" fill="#fff" stroke="#333" stroke-width="0.9"/><ellipse cx="579.5" cy="497" rx="3.8" ry="3.2" fill="#fff" stroke="#333" stroke-width="0.9"/><ellipse cx="587" cy="497" rx="4" ry="3.2" fill="#fff" stroke="#333" stroke-width="0.9"/><path d="M594.93,494.68 L607.15,516.56 A3.25,3.25 0 0 0 612.85,513.44 L601.07,491.32 A3.50,3.50 0 0 0 594.93,494.68 Z M606.86,515.85 L611.10,530.58 A3.00,3.00 0 0 0 616.90,529.02 L613.14,514.15 A3.25,3.25 0 0 0 606.86,515.85 Z M611.15,530.73 L614.39,539.85 A2.75,2.75 0 0 0 619.61,538.15 L616.85,528.87 A3.00,3.00 0 0 0 611.15,530.73 Z" fill="none" stroke="#333333" stroke-width="1.8" stroke-linejoin="round"/><path d="M594.93,494.68 L607.15,516.56 A3.25,3.25 0 0 0 612.85,513.44 L601.07,491.32 A3.50,3.50 0 0 0 594.93,494.68 Z M606.86,515.85 L611.10,530.58 A3.00,3.00 0 0 0 616.90,529.02 L613.14,514.15 A3.25,3.25 0 0 0 606.86,515.85 Z M611.15,530.73 L614.39,539.85 A2.75,2.75 0 0 0 619.61,538.15 L616.85,528.87 A3.00,3.00 0 0 0 611.15,530.73 Z" fill="#ffffff" stroke="none"/><path d="M607.02,516.30 Q610.60,516.38 612.98,513.70 M611.12,530.64 Q614.42,531.24 616.88,528.96 " fill="none" stroke="#333333" stroke-width="0.9"/>
<path d="M590.60,503.85 L595.60,523.85 A3.50,3.50 0 0 0 602.40,522.15 L597.40,502.15 A3.50,3.50 0 0 0 590.60,503.85 Z M595.61,523.86 L598.61,535.76 A3.50,3.50 0 0 0 605.39,534.04 L602.39,522.14 A3.50,3.50 0 0 0 595.61,523.86 Z M598.58,535.63 L602.32,552.07 A3.25,3.25 0 0 0 608.68,550.73 L605.42,534.17 A3.50,3.50 0 0 0 598.58,535.63 Z M602.28,551.82 L604.02,563.38 A3.00,3.00 0 0 0 609.98,562.62 L608.72,550.98 A3.25,3.25 0 0 0 602.28,551.82 Z M604.01,563.30 L604.76,568.27 A2.75,2.75 0 0 0 610.24,567.73 L609.99,562.70 A3.00,3.00 0 0 0 604.01,563.30 Z" fill="none" stroke="#333333" stroke-width="1.8" stroke-linejoin="round"/><path d="M590.60,503.85 L595.60,523.85 A3.50,3.50 0 0 0 602.40,522.15 L597.40,502.15 A3.50,3.50 0 0 0 590.60,503.85 Z M595.61,523.86 L598.61,535.76 A3.50,3.50 0 0 0 605.39,534.04 L602.39,522.14 A3.50,3.50 0 0 0 595.61,523.86 Z M598.58,535.63 L602.32,552.07 A3.25,3.25 0 0 0 608.68,550.73 L605.42,534.17 A3.50,3.50 0 0 0 598.58,535.63 Z M602.28,551.82 L604.02,563.38 A3.00,3.00 0 0 0 609.98,562.62 L608.72,550.98 A3.25,3.25 0 0 0 602.28,551.82 Z M604.01,563.30 L604.76,568.27 A2.75,2.75 0 0 0 610.24,567.73 L609.99,562.70 A3.00,3.00 0 0 0 604.01,563.30 Z" fill="#ffffff" stroke="none"/><path d="M595.61,523.85 Q599.36,524.45 602.39,522.15 M598.59,535.68 Q602.33,536.36 605.41,534.12 M602.30,551.97 Q605.76,552.88 608.70,550.83 M604.02,563.36 Q607.18,564.49 609.98,562.64 " fill="none" stroke="#333333" stroke-width="0.9"/>
<path d="M582.25,503.00 L582.25,523.00 A3.75,3.75 0 0 0 589.75,523.00 L589.75,503.00 A3.75,3.75 0 0 0 582.25,503.00 Z M582.25,523.00 L582.25,536.20 A3.75,3.75 0 0 0 589.75,536.20 L589.75,523.00 A3.75,3.75 0 0 0 582.25,523.00 Z M582.25,536.20 L582.50,555.20 A3.50,3.50 0 0 0 589.50,555.20 L589.75,536.20 A3.75,3.75 0 0 0 582.25,536.20 Z M582.50,555.20 L582.50,569.20 A3.50,3.50 0 0 0 589.50,569.20 L589.50,555.20 A3.50,3.50 0 0 0 582.50,555.20 Z M582.50,569.20 L582.75,577.00 A3.25,3.25 0 0 0 589.25,577.00 L589.50,569.20 A3.50,3.50 0 0 0 582.50,569.20 Z" fill="none" stroke="#333333" stroke-width="1.8" stroke-linejoin="round"/><path d="M582.25,503.00 L582.25,523.00 A3.75,3.75 0 0 0 589.75,523.00 L589.75,503.00 A3.75,3.75 0 0 0 582.25,503.00 Z M582.25,523.00 L582.25,536.20 A3.75,3.75 0 0 0 589.75,536.20 L589.75,523.00 A3.75,3.75 0 0 0 582.25,523.00 Z M582.25,536.20 L582.50,555.20 A3.50,3.50 0 0 0 589.50,555.20 L589.75,536.20 A3.75,3.75 0 0 0 582.25,536.20 Z M582.50,555.20 L582.50,569.20 A3.50,3.50 0 0 0 589.50,569.20 L589.50,555.20 A3.50,3.50 0 0 0 582.50,555.20 Z M582.50,569.20 L582.75,577.00 A3.25,3.25 0 0 0 589.25,577.00 L589.50,569.20 A3.50,3.50 0 0 0 582.50,569.20 Z" fill="#ffffff" stroke="none"/><path d="M582.25,523.00 Q586.00,524.50 589.75,523.00 M582.25,536.20 Q586.00,537.70 589.75,536.20 M582.50,555.20 Q586.00,556.70 589.50,555.20 M582.50,569.20 Q586.00,570.70 589.50,569.20 " fill="none" stroke="#333333" stroke-width="0.9"/>
<path d="M574.50,502.83 L573.50,522.83 A3.50,3.50 0 0 0 580.50,523.17 L581.50,503.17 A3.50,3.50 0 0 0 574.50,502.83 Z M573.51,522.72 L571.51,547.32 A3.50,3.50 0 0 0 578.49,547.88 L580.49,523.28 A3.50,3.50 0 0 0 573.51,522.72 Z M571.57,546.92 L568.81,562.17 A3.25,3.25 0 0 0 575.19,563.43 L578.43,548.28 A3.50,3.50 0 0 0 571.57,546.92 Z M568.78,562.35 L568.03,569.59 A3.00,3.00 0 0 0 573.97,570.41 L575.22,563.25 A3.25,3.25 0 0 0 568.78,562.35 Z" fill="none" stroke="#333333" stroke-width="1.8" stroke-linejoin="round"/><path d="M574.50,502.83 L573.50,522.83 A3.50,3.50 0 0 0 580.50,523.17 L581.50,503.17 A3.50,3.50 0 0 0 574.50,502.83 Z M573.51,522.72 L571.51,547.32 A3.50,3.50 0 0 0 578.49,547.88 L580.49,523.28 A3.50,3.50 0 0 0 573.51,522.72 Z M571.57,546.92 L568.81,562.17 A3.25,3.25 0 0 0 575.19,563.43 L578.43,548.28 A3.50,3.50 0 0 0 571.57,546.92 Z M568.78,562.35 L568.03,569.59 A3.00,3.00 0 0 0 573.97,570.41 L575.22,563.25 A3.25,3.25 0 0 0 568.78,562.35 Z" fill="#ffffff" stroke="none"/><path d="M573.51,522.77 Q576.90,524.50 580.49,523.23 M571.53,547.16 Q574.81,549.09 578.47,548.04 M568.80,562.23 Q571.74,564.28 575.20,563.37 " fill="none" stroke="#333333" stroke-width="0.9"/>
<path d="M567.77,502.68 L565.77,522.68 A3.25,3.25 0 0 0 572.23,523.32 L574.23,503.32 A3.25,3.25 0 0 0 567.77,502.68 Z M565.79,522.47 L562.79,540.67 A3.25,3.25 0 0 0 569.21,541.73 L572.21,523.53 A3.25,3.25 0 0 0 565.79,522.47 Z M562.81,540.57 L561.06,550.82 A3.00,3.00 0 0 0 566.94,551.98 L569.19,541.83 A3.25,3.25 0 0 0 562.81,540.57 Z M561.07,550.74 L559.82,557.39 A2.75,2.75 0 0 0 565.18,558.61 L566.93,552.06 A3.00,3.00 0 0 0 561.07,550.74 Z" fill="none" stroke="#333333" stroke-width="1.8" stroke-linejoin="round"/><path d="M567.77,502.68 L565.77,522.68 A3.25,3.25 0 0 0 572.23,523.32 L574.23,503.32 A3.25,3.25 0 0 0 567.77,502.68 Z M565.79,522.47 L562.79,540.67 A3.25,3.25 0 0 0 569.21,541.73 L572.21,523.53 A3.25,3.25 0 0 0 565.79,522.47 Z M562.81,540.57 L561.06,550.82 A3.00,3.00 0 0 0 566.94,551.98 L569.19,541.83 A3.25,3.25 0 0 0 562.81,540.57 Z M561.07,550.74 L559.82,557.39 A2.75,2.75 0 0 0 565.18,558.61 L566.93,552.06 A3.00,3.00 0 0 0 561.07,550.74 Z" fill="#ffffff" stroke="none"/><path d="M565.78,522.58 Q568.81,524.49 572.22,523.42 M562.80,540.64 Q565.74,542.68 569.20,541.76 M561.06,550.79 Q563.69,552.87 566.94,552.01 " fill="none" stroke="#333333" stroke-width="0.9"/>
<path d="M421.6,402 C418,396 413,393 406,392.5 C398,392 388,391.5 381,394 C376,396 373,402 373.5,409 C374,414 377,418 381,422 C386,427 389,432 388.9,438 C388.5,442 387,446 387,450 C393,455 400,458 404,463 C406,470 407,475 410,479 C415,485 420,488 425,488 C432,487 437,483 441,480 L443.5,479 L443.5,470 L430,440 L421.6,410 Z" fill="#efefef" stroke="#333333" stroke-width="1.2" stroke-linejoin="round" />
<path d="M465.4,402 C469,396 475,392 483,391.6 C492,391 500,391 507,393 C514,396 519.5,400 519.8,406 C520,412 517,417 514,419 C509,424 506,430 505,437 C505,442 506,446 504,452 C497,456 490,459 487.4,463 C484.4,470 483.4,475 481.4,478 C475.4,485 470.4,488 465.4,488 C458.4,487 453.4,483 449.4,480 L445.2,479 L445.2,470 L457,440 L465.4,410 Z" fill="#efefef" stroke="#333333" stroke-width="1.2" stroke-linejoin="round" />
<path d="M386,398 C395,395 410,396 416,402 L418,420 C410,425 398,428 392,432 C388,420 383,410 386,398 Z" fill="#e7e7e7"/><path d="M501,398 C492,395 477,396 471,402 L469,420 C477,425 489,428 495,432 C499,420 504,410 501,398 Z" fill="#e7e7e7"/><path d="M404,463 C410,458 420,456 430,458 C437,460 441,463 443.5,466 L443.5,480 C437,484 431,488 425,488 C418,488 412,484 409,478 C407,473 406,468 404,463 Z" fill="#fff" stroke="#333333" stroke-width="0" stroke-linejoin="round" />
<g transform="translate(890.4,0) scale(-1,1)"><path d="M404,463 C410,458 420,456 430,458 C437,460 441,463 443.5,466 L443.5,480 C437,484 431,488 425,488 C418,488 412,484 409,478 C407,473 406,468 404,463 Z" fill="#fff" stroke="#333333" stroke-width="0" stroke-linejoin="round" />
</g>
<path d="M417,469 C417,464 421,461.5 426,461.8 C432,462 435.5,466 435,471 C434.5,476 430,478 425,477.5 C420,477 417,474 417,469 Z" fill="#fff" stroke="#333333" stroke-width="1.2" stroke-linejoin="round" />
<g transform="translate(890.4,0) scale(-1,1)"><path d="M417,469 C417,464 421,461.5 426,461.8 C432,462 435.5,466 435,471 C434.5,476 430,478 425,477.5 C420,477 417,474 417,469 Z" fill="#fff" stroke="#333333" stroke-width="1.2" stroke-linejoin="round" />
</g>
<path d="M409,478 C415,485 420,488 425,488 C432,487 437,483 441,480 M481.4,478 C475.4,485 470.4,488 465.4,488 C458.4,487 453.4,483 449.4,480" fill="none" stroke="#333" stroke-width="1.2"/><path d="M417,405 C421,403 428,414 434,415.7 L457,415.7 C463,414 466,403 470,405 C472,415 472,425 471.5,432 C466,445 455,455 447,461 L442,461 C434,455 423,445 417.8,432 C417,425 416,415 417,405 Z" fill="#ececec" stroke="#333333" stroke-width="1.1" stroke-linejoin="round" />
<path d="M411,436 C414,431 419,432 424,437 C430,443 436,450 438,456 C436,459 432,459 428,455 C422,449 415,444 411,440 Z" fill="#fff" stroke="#333333" stroke-width="1" stroke-linejoin="round" />
<g transform="translate(891.4,0) scale(-1,1)"><path d="M411,436 C414,431 419,432 424,437 C430,443 436,450 438,456 C436,459 432,459 428,455 C422,449 415,444 411,440 Z" fill="#fff" stroke="#333333" stroke-width="1" stroke-linejoin="round" />
</g>
<ellipse cx="436.5" cy="427" rx="2.4" ry="1.1" fill="#555"/><ellipse cx="454.5" cy="427" rx="2.4" ry="1.1" fill="#555"/><ellipse cx="436.5" cy="434" rx="2.2" ry="1.1" fill="#555"/><ellipse cx="454.5" cy="434" rx="2.2" ry="1.1" fill="#555"/><ellipse cx="436.5" cy="439.7" rx="2.0" ry="1.1" fill="#555"/><ellipse cx="454.5" cy="439.7" rx="2.0" ry="1.1" fill="#555"/><ellipse cx="436.5" cy="448.3" rx="1.9" ry="1.1" fill="#555"/><ellipse cx="454.5" cy="448.3" rx="1.9" ry="1.1" fill="#555"/><rect x="441.8" y="461.8" width="6.8" height="15.4" fill="#b7c8d3" stroke="#8aa0ad" stroke-width="0.6"/><path d="M368.2,457.6 C375,456.5 381,457 384.9,456.7 C385,451 389,447 395.4,447 C401,447 404.5,452 404.2,459 C404,463 402,466 399,468 C396,472 394,480 393.5,492 L412,600 C414,615 419,632 422.5,645 C430,650 438,658 438.8,667 C439,674 437,680 435,683 L394,683 C392,678 392,671 394,667 C397,662 400,658 400,655 L386,560 L373.5,491 C370,486 366,482 365,478 C363,472 363,466 364,462 C365,459 366,458 368.2,457.6 Z" fill="#ffffff" stroke="#333333" stroke-width="1.2" stroke-linejoin="round" />
<path d="M408.5,602 C411,616 415,632 418.5,646 C420.5,649 422,650 421.5,647 C417.5,630 413.5,614 411,602 Z" fill="#eeeeee"/><path d="M484.9,468 C490,472 494,476 495.4,481 L477,620 C476,630 474,640 470,648 C466,654 459,659 457,667 C456,673 457,679 459,683 L500,683 C502,681 504,676 504,670 C504,662 500,655 495,648 C494,640 495,632 497.2,620 L517,490 C518,486 520,484 521,482 C525,478 526.5,473 526.2,468 C525.5,462 522,456 517.4,455 C513,455 508,458 503,459 C502,452 497,446 491,446 C485,446 481.5,451 481.5,457 C481.5,462 483,466 484.9,468 Z" fill="#ffffff" stroke="#333333" stroke-width="1.2" stroke-linejoin="round" />
<path d="M481,605 C480,618 478,632 476,645 C474.5,649 473,650 473.5,647 C475,632 477,618 478.5,605 Z" fill="#eeeeee"/><path d="M484,467 C478,461 479,449 488,445.5 C494,443.5 500,445 503,449" fill="none" stroke="#a9bcc8" stroke-width="3.2"/><path d="M381,701 C383,697 391,697 394,701 C396,705 395,708 393.5,711 L394,800 L395,880 C397,890 397,900 395,906 C392,911 386,911 384,906 C382,898 383,890 384,880 L383,800 L382,712 C380,708 380,704 381,701 Z" fill="#ffffff" stroke="#333333" stroke-width="1.1" stroke-linejoin="round" />
<path d="M385.7,683 L437.4,683 C438.5,690 437,697 433.5,703 C429,711 426,718 425,726 L418,800 L417.5,837 C417.5,860 418,875 418.5,882 C421.5,886 424.5,891 424.5,897 C424.5,901 423.5,904 422,905 L397,905 C396,895 397,880 397,871 L396.5,800 L394.7,709 C389,704 386,695 385.7,683 Z" fill="#ffffff" stroke="#333333" stroke-width="1.1" stroke-linejoin="round" />
<path d="M414,698 C421,697 430,696 434.5,699 C432,708 427,716 424.5,726 L418.5,800 L417.5,845 C416,852 414,858 412,862 L410.5,845 L411,800 L413.5,740 C414,725 414,710 414,698 Z" fill="#d9d9d9"/><path d="M410,869 C412,876 414,884 415,892 L401.5,892 C403,884 406,876 410,869 Z" fill="#d4d4d4"/><path d="M398,897 C406,895.5 415,895.5 423,897.5" fill="none" stroke="#555" stroke-width="0.9"/><path d="M500,702 C502,698 512,697 516,700 C518.5,704 517,710 513.5,716 L508.4,747 L506.5,893 C508,898 508,903 506,907 C503,910 499,910 497.5,906 C496,901 497,896 498.3,893 L492.7,747 L499.4,714 C498.5,710 498.5,706 500,702 Z" fill="#ffffff" stroke="#333333" stroke-width="1.1" stroke-linejoin="round" />
<path d="M461.2,683 L510.6,683 C511.5,688 511.5,691 510.6,693.5 C506,700 501,705 498.3,711.4 L492.7,792 L493.8,860 L495,902.4 L465.7,902.4 C465.5,897 465.8,893 466.8,891 C471,882 475,872 477,860 L477,792 L472.5,725 C468,716 463,706 461.2,689 Z" fill="#ffffff" stroke="#333333" stroke-width="1.1" stroke-linejoin="round" />
<path d="M466,698 C470,705 476,715 480,725 L481.5,800 L481.5,845 C481,852 480,858 478,862 L475,845 L474.5,800 L472,730 C470,718 467,708 466,698 Z" fill="#d9d9d9"/><path d="M482,869 C484,876 487,884 489,892 L475,892 C476.5,884 479,876 482,869 Z" fill="#d4d4d4"/><path d="M467,896.5 C475,895 485,895 494,896.5" fill="none" stroke="#555" stroke-width="0.9"/><path d="M404,681 C403,675 408,671 415,671 C422,671 427.5,676 427.5,683 C427.5,690 422,695 415,695 C408,695 404,690 404,681 Z" fill="#e6e6e6" stroke="#333333" stroke-width="1.2" stroke-linejoin="round" />
<path d="M473,681 C472,675 477,671 484,671 C491,671 496.5,676 496.5,683 C496.5,690 491,695 484,695 C477,695 473,690 473,681 Z" fill="#e6e6e6" stroke="#333333" stroke-width="1.2" stroke-linejoin="round" />
<path d="M397,898 L422.5,898 C424,904 423.5,911 421,915.5 L399,915.5 C396,911 395.5,904 397,898 Z" fill="#e3e3e3" stroke="#333333" stroke-width="1" stroke-linejoin="round" />
<path d="M389,916 C398,913.5 414,913 424,915.5 C425.5,921 425,928 423,933 L392,933 C389,929 388,922 389,916 Z" fill="#fff" stroke="#333333" stroke-width="1" stroke-linejoin="round" />
<path d="M399,916 L398,933 M406,915 L406,933 M413,915 L414,933" stroke="#333" stroke-width="0.8"/><path d="M384.68,931.06 L372.91,960.75 A2.25,2.25 0 0 0 377.09,962.45 L389.32,932.94 A2.50,2.50 0 0 0 384.68,931.06 Z M372.89,960.82 L369.03,971.78 A2.10,2.10 0 0 0 372.97,973.22 L377.11,962.38 A2.25,2.25 0 0 0 372.89,960.82 Z M368.97,971.95 L367.57,977.47 A2.00,2.00 0 0 0 371.43,978.53 L373.03,973.05 A2.10,2.10 0 0 0 368.97,971.95 Z M367.54,977.61 L366.64,982.63 A1.90,1.90 0 0 0 370.36,983.37 L371.46,978.39 A2.00,2.00 0 0 0 367.54,977.61 Z" fill="none" stroke="#333333" stroke-width="1.8" stroke-linejoin="round"/><path d="M384.68,931.06 L372.91,960.75 A2.25,2.25 0 0 0 377.09,962.45 L389.32,932.94 A2.50,2.50 0 0 0 384.68,931.06 Z M372.89,960.82 L369.03,971.78 A2.10,2.10 0 0 0 372.97,973.22 L377.11,962.38 A2.25,2.25 0 0 0 372.89,960.82 Z M368.97,971.95 L367.57,977.47 A2.00,2.00 0 0 0 371.43,978.53 L373.03,973.05 A2.10,2.10 0 0 0 368.97,971.95 Z M367.54,977.61 L366.64,982.63 A1.90,1.90 0 0 0 370.36,983.37 L371.46,978.39 A2.00,2.00 0 0 0 367.54,977.61 Z" fill="#ffffff" stroke="none"/><path d="M372.91,960.77 Q374.45,963.00 377.09,962.43 M369.01,971.83 Q370.52,973.92 372.99,973.17 M367.55,977.54 Q369.15,979.46 371.45,978.46 " fill="none" stroke="#333333" stroke-width="0.9"/>
<path d="M388.36,932.22 L378.60,966.29 A2.50,2.50 0 0 0 383.40,967.71 L393.64,933.78 A2.75,2.75 0 0 0 388.36,932.22 Z M378.61,966.26 L374.85,979.34 A2.25,2.25 0 0 0 379.15,980.66 L383.39,967.74 A2.50,2.50 0 0 0 378.61,966.26 Z M374.91,979.16 L373.05,984.22 A2.10,2.10 0 0 0 376.95,985.78 L379.09,980.84 A2.25,2.25 0 0 0 374.91,979.16 Z M372.94,984.59 L372.04,989.61 A2.00,2.00 0 0 0 375.96,990.39 L377.06,985.41 A2.10,2.10 0 0 0 372.94,984.59 Z" fill="none" stroke="#333333" stroke-width="1.8" stroke-linejoin="round"/><path d="M388.36,932.22 L378.60,966.29 A2.50,2.50 0 0 0 383.40,967.71 L393.64,933.78 A2.75,2.75 0 0 0 388.36,932.22 Z M378.61,966.26 L374.85,979.34 A2.25,2.25 0 0 0 379.15,980.66 L383.39,967.74 A2.50,2.50 0 0 0 378.61,966.26 Z M374.91,979.16 L373.05,984.22 A2.10,2.10 0 0 0 376.95,985.78 L379.09,980.84 A2.25,2.25 0 0 0 374.91,979.16 Z M372.94,984.59 L372.04,989.61 A2.00,2.00 0 0 0 375.96,990.39 L377.06,985.41 A2.10,2.10 0 0 0 372.94,984.59 Z" fill="#ffffff" stroke="none"/><path d="M378.60,966.29 Q380.57,968.44 383.40,967.71 M374.87,979.29 Q376.53,981.42 379.13,980.71 M372.99,984.40 Q374.57,986.44 377.01,985.60 " fill="none" stroke="#333333" stroke-width="0.9"/>
<path d="M393.04,932.54 L387.28,970.98 A2.75,2.75 0 0 0 392.72,971.82 L398.96,933.46 A3.00,3.00 0 0 0 393.04,932.54 Z M387.32,970.80 L384.06,986.45 A2.50,2.50 0 0 0 388.94,987.55 L392.68,972.00 A2.75,2.75 0 0 0 387.32,970.80 Z M384.07,986.39 L382.32,994.45 A2.25,2.25 0 0 0 386.68,995.55 L388.93,987.61 A2.50,2.50 0 0 0 384.07,986.39 Z M382.32,994.45 L380.96,1000.49 A2.10,2.10 0 0 0 385.04,1001.51 L386.68,995.55 A2.25,2.25 0 0 0 382.32,994.45 Z" fill="none" stroke="#333333" stroke-width="1.8" stroke-linejoin="round"/><path d="M393.04,932.54 L387.28,970.98 A2.75,2.75 0 0 0 392.72,971.82 L398.96,933.46 A3.00,3.00 0 0 0 393.04,932.54 Z M387.32,970.80 L384.06,986.45 A2.50,2.50 0 0 0 388.94,987.55 L392.68,972.00 A2.75,2.75 0 0 0 387.32,970.80 Z M384.07,986.39 L382.32,994.45 A2.25,2.25 0 0 0 386.68,995.55 L388.93,987.61 A2.50,2.50 0 0 0 384.07,986.39 Z M382.32,994.45 L380.96,1000.49 A2.10,2.10 0 0 0 385.04,1001.51 L386.68,995.55 A2.25,2.25 0 0 0 382.32,994.45 Z" fill="#ffffff" stroke="none"/><path d="M387.29,970.92 Q389.74,972.88 392.71,971.88 M384.07,986.43 Q386.16,988.46 388.93,987.57 M382.32,994.45 Q384.14,996.46 386.68,995.55 " fill="none" stroke="#333333" stroke-width="0.9"/>
<path d="M399.76,932.76 L397.01,972.57 A3.00,3.00 0 0 0 402.99,973.03 L406.24,933.24 A3.25,3.25 0 0 0 399.76,932.76 Z M397.05,972.28 L394.29,989.22 A2.75,2.75 0 0 0 399.71,990.18 L402.95,973.32 A3.00,3.00 0 0 0 397.05,972.28 Z M394.28,989.28 L393.03,999.12 A2.50,2.50 0 0 0 397.97,999.88 L399.72,990.12 A2.75,2.75 0 0 0 394.28,989.28 Z M393.02,999.21 L392.27,1007.74 A2.25,2.25 0 0 0 396.73,1008.26 L397.98,999.79 A2.50,2.50 0 0 0 393.02,999.21 Z" fill="none" stroke="#333333" stroke-width="1.8" stroke-linejoin="round"/><path d="M399.76,932.76 L397.01,972.57 A3.00,3.00 0 0 0 402.99,973.03 L406.24,933.24 A3.25,3.25 0 0 0 399.76,932.76 Z M397.05,972.28 L394.29,989.22 A2.75,2.75 0 0 0 399.71,990.18 L402.95,973.32 A3.00,3.00 0 0 0 397.05,972.28 Z M394.28,989.28 L393.03,999.12 A2.50,2.50 0 0 0 397.97,999.88 L399.72,990.12 A2.75,2.75 0 0 0 394.28,989.28 Z M393.02,999.21 L392.27,1007.74 A2.25,2.25 0 0 0 396.73,1008.26 L397.98,999.79 A2.50,2.50 0 0 0 393.02,999.21 Z" fill="#ffffff" stroke="none"/><path d="M397.02,972.48 Q399.84,974.29 402.98,973.12 M394.29,989.24 Q396.75,991.18 399.71,990.16 M393.02,999.16 Q395.30,1000.99 397.98,999.84 " fill="none" stroke="#333333" stroke-width="0.9"/>
<path d="M408.50,933.15 L409.25,975.66 A6.75,6.75 0 0 0 422.75,975.34 L421.50,932.85 A6.50,6.50 0 0 0 408.50,933.15 Z M409.26,975.76 L411.50,1001.22 A5.50,5.50 0 0 0 422.50,1000.78 L422.74,975.24 A6.75,6.75 0 0 0 409.26,975.76 Z M411.50,1001.16 L413.00,1018.13 A4.50,4.50 0 0 0 422.00,1017.87 L422.50,1000.84 A5.50,5.50 0 0 0 411.50,1001.16 Z" fill="none" stroke="#333333" stroke-width="1.8" stroke-linejoin="round"/><path d="M408.50,933.15 L409.25,975.66 A6.75,6.75 0 0 0 422.75,975.34 L421.50,932.85 A6.50,6.50 0 0 0 408.50,933.15 Z M409.26,975.76 L411.50,1001.22 A5.50,5.50 0 0 0 422.50,1000.78 L422.74,975.24 A6.75,6.75 0 0 0 409.26,975.76 Z M411.50,1001.16 L413.00,1018.13 A4.50,4.50 0 0 0 422.00,1017.87 L422.50,1000.84 A5.50,5.50 0 0 0 411.50,1001.16 Z" fill="#ffffff" stroke="none"/><path d="M409.25,975.70 Q416.04,977.00 422.75,975.30 M411.50,1001.19 Q417.05,1002.50 422.50,1000.81 " fill="none" stroke="#333333" stroke-width="0.9"/>
<path d="M412,945 C413,955 414,965 414,973" stroke="#ddd" stroke-width="3" fill="none"/><g transform="translate(884,0) scale(-1,1)"><path d="M397,898 L422.5,898 C424,904 423.5,911 421,915.5 L399,915.5 C396,911 395.5,904 397,898 Z" fill="#e3e3e3" stroke="#333333" stroke-width="1" stroke-linejoin="round" />
<path d="M389,916 C398,913.5 414,913 424,915.5 C425.5,921 425,928 423,933 L392,933 C389,929 388,922 389,916 Z" fill="#fff" stroke="#333333" stroke-width="1" stroke-linejoin="round" />
<path d="M399,916 L398,933 M406,915 L406,933 M413,915 L414,933" stroke="#333" stroke-width="0.8"/><path d="M384.68,931.06 L372.91,960.75 A2.25,2.25 0 0 0 377.09,962.45 L389.32,932.94 A2.50,2.50 0 0 0 384.68,931.06 Z M372.89,960.82 L369.03,971.78 A2.10,2.10 0 0 0 372.97,973.22 L377.11,962.38 A2.25,2.25 0 0 0 372.89,960.82 Z M368.97,971.95 L367.57,977.47 A2.00,2.00 0 0 0 371.43,978.53 L373.03,973.05 A2.10,2.10 0 0 0 368.97,971.95 Z M367.54,977.61 L366.64,982.63 A1.90,1.90 0 0 0 370.36,983.37 L371.46,978.39 A2.00,2.00 0 0 0 367.54,977.61 Z" fill="none" stroke="#333333" stroke-width="1.8" stroke-linejoin="round"/><path d="M384.68,931.06 L372.91,960.75 A2.25,2.25 0 0 0 377.09,962.45 L389.32,932.94 A2.50,2.50 0 0 0 384.68,931.06 Z M372.89,960.82 L369.03,971.78 A2.10,2.10 0 0 0 372.97,973.22 L377.11,962.38 A2.25,2.25 0 0 0 372.89,960.82 Z M368.97,971.95 L367.57,977.47 A2.00,2.00 0 0 0 371.43,978.53 L373.03,973.05 A2.10,2.10 0 0 0 368.97,971.95 Z M367.54,977.61 L366.64,982.63 A1.90,1.90 0 0 0 370.36,983.37 L371.46,978.39 A2.00,2.00 0 0 0 367.54,977.61 Z" fill="#ffffff" stroke="none"/><path d="M372.91,960.77 Q374.45,963.00 377.09,962.43 M369.01,971.83 Q370.52,973.92 372.99,973.17 M367.55,977.54 Q369.15,979.46 371.45,978.46 " fill="none" stroke="#333333" stroke-width="0.9"/>
<path d="M388.36,932.22 L378.60,966.29 A2.50,2.50 0 0 0 383.40,967.71 L393.64,933.78 A2.75,2.75 0 0 0 388.36,932.22 Z M378.61,966.26 L374.85,979.34 A2.25,2.25 0 0 0 379.15,980.66 L383.39,967.74 A2.50,2.50 0 0 0 378.61,966.26 Z M374.91,979.16 L373.05,984.22 A2.10,2.10 0 0 0 376.95,985.78 L379.09,980.84 A2.25,2.25 0 0 0 374.91,979.16 Z M372.94,984.59 L372.04,989.61 A2.00,2.00 0 0 0 375.96,990.39 L377.06,985.41 A2.10,2.10 0 0 0 372.94,984.59 Z" fill="none" stroke="#333333" stroke-width="1.8" stroke-linejoin="round"/><path d="M388.36,932.22 L378.60,966.29 A2.50,2.50 0 0 0 383.40,967.71 L393.64,933.78 A2.75,2.75 0 0 0 388.36,932.22 Z M378.61,966.26 L374.85,979.34 A2.25,2.25 0 0 0 379.15,980.66 L383.39,967.74 A2.50,2.50 0 0 0 378.61,966.26 Z M374.91,979.16 L373.05,984.22 A2.10,2.10 0 0 0 376.95,985.78 L379.09,980.84 A2.25,2.25 0 0 0 374.91,979.16 Z M372.94,984.59 L372.04,989.61 A2.00,2.00 0 0 0 375.96,990.39 L377.06,985.41 A2.10,2.10 0 0 0 372.94,984.59 Z" fill="#ffffff" stroke="none"/><path d="M378.60,966.29 Q380.57,968.44 383.40,967.71 M374.87,979.29 Q376.53,981.42 379.13,980.71 M372.99,984.40 Q374.57,986.44 377.01,985.60 " fill="none" stroke="#333333" stroke-width="0.9"/>
<path d="M393.04,932.54 L387.28,970.98 A2.75,2.75 0 0 0 392.72,971.82 L398.96,933.46 A3.00,3.00 0 0 0 393.04,932.54 Z M387.32,970.80 L384.06,986.45 A2.50,2.50 0 0 0 388.94,987.55 L392.68,972.00 A2.75,2.75 0 0 0 387.32,970.80 Z M384.07,986.39 L382.32,994.45 A2.25,2.25 0 0 0 386.68,995.55 L388.93,987.61 A2.50,2.50 0 0 0 384.07,986.39 Z M382.32,994.45 L380.96,1000.49 A2.10,2.10 0 0 0 385.04,1001.51 L386.68,995.55 A2.25,2.25 0 0 0 382.32,994.45 Z" fill="none" stroke="#333333" stroke-width="1.8" stroke-linejoin="round"/><path d="M393.04,932.54 L387.28,970.98 A2.75,2.75 0 0 0 392.72,971.82 L398.96,933.46 A3.00,3.00 0 0 0 393.04,932.54 Z M387.32,970.80 L384.06,986.45 A2.50,2.50 0 0 0 388.94,987.55 L392.68,972.00 A2.75,2.75 0 0 0 387.32,970.80 Z M384.07,986.39 L382.32,994.45 A2.25,2.25 0 0 0 386.68,995.55 L388.93,987.61 A2.50,2.50 0 0 0 384.07,986.39 Z M382.32,994.45 L380.96,1000.49 A2.10,2.10 0 0 0 385.04,1001.51 L386.68,995.55 A2.25,2.25 0 0 0 382.32,994.45 Z" fill="#ffffff" stroke="none"/><path d="M387.29,970.92 Q389.74,972.88 392.71,971.88 M384.07,986.43 Q386.16,988.46 388.93,987.57 M382.32,994.45 Q384.14,996.46 386.68,995.55 " fill="none" stroke="#333333" stroke-width="0.9"/>
<path d="M399.76,932.76 L397.01,972.57 A3.00,3.00 0 0 0 402.99,973.03 L406.24,933.24 A3.25,3.25 0 0 0 399.76,932.76 Z M397.05,972.28 L394.29,989.22 A2.75,2.75 0 0 0 399.71,990.18 L402.95,973.32 A3.00,3.00 0 0 0 397.05,972.28 Z M394.28,989.28 L393.03,999.12 A2.50,2.50 0 0 0 397.97,999.88 L399.72,990.12 A2.75,2.75 0 0 0 394.28,989.28 Z M393.02,999.21 L392.27,1007.74 A2.25,2.25 0 0 0 396.73,1008.26 L397.98,999.79 A2.50,2.50 0 0 0 393.02,999.21 Z" fill="none" stroke="#333333" stroke-width="1.8" stroke-linejoin="round"/><path d="M399.76,932.76 L397.01,972.57 A3.00,3.00 0 0 0 402.99,973.03 L406.24,933.24 A3.25,3.25 0 0 0 399.76,932.76 Z M397.05,972.28 L394.29,989.22 A2.75,2.75 0 0 0 399.71,990.18 L402.95,973.32 A3.00,3.00 0 0 0 397.05,972.28 Z M394.28,989.28 L393.03,999.12 A2.50,2.50 0 0 0 397.97,999.88 L399.72,990.12 A2.75,2.75 0 0 0 394.28,989.28 Z M393.02,999.21 L392.27,1007.74 A2.25,2.25 0 0 0 396.73,1008.26 L397.98,999.79 A2.50,2.50 0 0 0 393.02,999.21 Z" fill="#ffffff" stroke="none"/><path d="M397.02,972.48 Q399.84,974.29 402.98,973.12 M394.29,989.24 Q396.75,991.18 399.71,990.16 M393.02,999.16 Q395.30,1000.99 397.98,999.84 " fill="none" stroke="#333333" stroke-width="0.9"/>
<path d="M408.50,933.15 L409.25,975.66 A6.75,6.75 0 0 0 422.75,975.34 L421.50,932.85 A6.50,6.50 0 0 0 408.50,933.15 Z M409.26,975.76 L411.50,1001.22 A5.50,5.50 0 0 0 422.50,1000.78 L422.74,975.24 A6.75,6.75 0 0 0 409.26,975.76 Z M411.50,1001.16 L413.00,1018.13 A4.50,4.50 0 0 0 422.00,1017.87 L422.50,1000.84 A5.50,5.50 0 0 0 411.50,1001.16 Z" fill="none" stroke="#333333" stroke-width="1.8" stroke-linejoin="round"/><path d="M408.50,933.15 L409.25,975.66 A6.75,6.75 0 0 0 422.75,975.34 L421.50,932.85 A6.50,6.50 0 0 0 408.50,933.15 Z M409.26,975.76 L411.50,1001.22 A5.50,5.50 0 0 0 422.50,1000.78 L422.74,975.24 A6.75,6.75 0 0 0 409.26,975.76 Z M411.50,1001.16 L413.00,1018.13 A4.50,4.50 0 0 0 422.00,1017.87 L422.50,1000.84 A5.50,5.50 0 0 0 411.50,1001.16 Z" fill="#ffffff" stroke="none"/><path d="M409.25,975.70 Q416.04,977.00 422.75,975.30 M411.50,1001.19 Q417.05,1002.50 422.50,1000.81 " fill="none" stroke="#333333" stroke-width="0.9"/>
<path d="M412,945 C413,955 414,965 414,973" stroke="#ddd" stroke-width="3" fill="none"/></g>
<path d="M441.9,46.4 C425,46.5 412,54 407.9,67 C404.5,75 403.8,81 403.8,90 L403.2,105.6 C403.5,110 406,116 411.4,119.7 L412.6,122 C414,132 415.5,138 417.3,143.1 C419,148 421,151 425,154 L441.9,158 L459,154 C463,151 465,147 467.7,143.1 C469,138 471,130 472.3,122 L472.9,119.7 C478,116 480.5,111 481.1,105.6 L481,90 C481,80 480.5,75 477,63.4 C472,54 458,46.5 441.9,46.4 Z" fill="#ffffff" stroke="#333333" stroke-width="1.3" stroke-linejoin="round" />
<ellipse cx="441" cy="64" rx="20" ry="11" fill="#f4f4f4"/><path d="M425,78 C432,82 438,84 442,90 C446,84 452,82 459,78 C452,76 446,77 442,80 C438,77 432,76 425,78 Z" fill="#f0f0f0"/><path d="M411.5,91 C411.5,84 417,81.5 423.5,81.8 C431,82 436.5,85.5 436,92.5 C435.5,100 430,104.5 423,104.5 C416,104.5 411.5,98 411.5,91 Z" fill="#d6d6d6" stroke="#9a9a9a" stroke-width="0.7"/><path d="M449,92.5 C448.5,85.5 454,81.6 461,81.6 C467.5,81.8 472.5,84.5 472.3,91 C472,99 467,104.5 460,104.5 C453,104.5 449.5,99.5 449,92.5 Z" fill="#d6d6d6" stroke="#9a9a9a" stroke-width="0.7"/><ellipse cx="421" cy="90" rx="6" ry="5" fill="#e4e4e4"/><ellipse cx="464" cy="90" rx="6" ry="5" fill="#e4e4e4"/><path d="M412.5,97 C416,104 429,106 435.5,98" fill="none" stroke="#444" stroke-width="1.2"/><path d="M449.5,98 C455,105.5 467,104.5 471.5,96" fill="none" stroke="#444" stroke-width="1.2"/><path d="M414,82 C416,80 419,80 421,80.5 M463,80.5 C466,80 469,80.5 471,82" fill="none" stroke="#777" stroke-width="0.7"/><path d="M440.5,98 C437,101 434,110 434,115 C434,118 437,118.6 441,118.6 C445,118.6 449,118 449,115 C449,110 446,101 442.5,98 Z" fill="#d0d0d0" stroke="#b0b0b0" stroke-width="0.6"/><path d="M404,111 C407,116 412,119 417,120" fill="none" stroke="#888" stroke-width="0.7"/><path d="M480,111 C477,116 472,119 467,120" fill="none" stroke="#888" stroke-width="0.7"/><path d="M414,121 C418,124 420,129 421,134" fill="none" stroke="#444" stroke-width="0.9"/><path d="M470,121 C466,124 464,129 463,134" fill="none" stroke="#444" stroke-width="0.9"/><path d="M467,124 L468,140 M470,125 L470,137" fill="none" stroke="#aaa" stroke-width="0.6"/><rect x="422.5" y="126.5" width="3.4" height="6.8" rx="1.3" fill="#fff" stroke="#999" stroke-width="0.55"/><rect x="422.8" y="133.8" width="3.2" height="6.4" rx="1.3" fill="#fff" stroke="#999" stroke-width="0.55"/><rect x="426" y="126.5" width="3.4" height="6.8" rx="1.3" fill="#fff" stroke="#999" stroke-width="0.55"/><rect x="426.3" y="133.8" width="3.2" height="6.4" rx="1.3" fill="#fff" stroke="#999" stroke-width="0.55"/><rect x="429.5" y="126.5" width="3.4" height="6.8" rx="1.3" fill="#fff" stroke="#999" stroke-width="0.55"/><rect x="429.8" y="133.8" width="3.2" height="6.4" rx="1.3" fill="#fff" stroke="#999" stroke-width="0.55"/><rect x="433" y="126.5" width="3.4" height="6.8" rx="1.3" fill="#fff" stroke="#999" stroke-width="0.55"/><rect x="433.3" y="133.8" width="3.2" height="6.4" rx="1.3" fill="#fff" stroke="#999" stroke-width="0.55"/><rect x="436.6" y="126.5" width="3.4" height="6.8" rx="1.3" fill="#fff" stroke="#999" stroke-width="0.55"/><rect x="436.90000000000003" y="133.8" width="3.2" height="6.4" rx="1.3" fill="#fff" stroke="#999" stroke-width="0.55"/><rect x="440.2" y="126.5" width="3.4" height="6.8" rx="1.3" fill="#fff" stroke="#999" stroke-width="0.55"/><rect x="440.5" y="133.8" width="3.2" height="6.4" rx="1.3" fill="#fff" stroke="#999" stroke-width="0.55"/><rect x="443.8" y="126.5" width="3.4" height="6.8" rx="1.3" fill="#fff" stroke="#999" stroke-width="0.55"/><rect x="444.1" y="133.8" width="3.2" height="6.4" rx="1.3" fill="#fff" stroke="#999" stroke-width="0.55"/><rect x="447.4" y="126.5" width="3.4" height="6.8" rx="1.3" fill="#fff" stroke="#999" stroke-width="0.55"/><rect x="447.7" y="133.8" width="3.2" height="6.4" rx="1.3" fill="#fff" stroke="#999" stroke-width="0.55"/><rect x="451" y="126.5" width="3.4" height="6.8" rx="1.3" fill="#fff" stroke="#999" stroke-width="0.55"/><rect x="451.3" y="133.8" width="3.2" height="6.4" rx="1.3" fill="#fff" stroke="#999" stroke-width="0.55"/><rect x="454.6" y="126.5" width="3.4" height="6.8" rx="1.3" fill="#fff" stroke="#999" stroke-width="0.55"/><rect x="454.90000000000003" y="133.8" width="3.2" height="6.4" rx="1.3" fill="#fff" stroke="#999" stroke-width="0.55"/><rect x="458.2" y="126.5" width="3.4" height="6.8" rx="1.3" fill="#fff" stroke="#999" stroke-width="0.55"/><rect x="458.5" y="133.8" width="3.2" height="6.4" rx="1.3" fill="#fff" stroke="#999" stroke-width="0.55"/><path d="M421,133.6 C430,135 454,135 463,133.6" fill="none" stroke="#777" stroke-width="0.7"/><path d="M440,122 L440.5,130 M444,121 L444,129" fill="none" stroke="#888" stroke-width="0.6"/><path d="M433.5,181.3 L451.6,181.3 L452,186 C455,187 456,190 452,191.5 L433,191.5 C429,190 430,187 433,186 Z" fill="#f0f0f0" stroke="#333333" stroke-width="1" stroke-linejoin="round" />
<path d="M432,156 C436,153 439,158 443,156 C447,154 451,158 455,154" fill="none" stroke="#555" stroke-width="1"/><path d="M432,165 C436,162 439,167 443,165 C447,163 451,167 455,163" fill="none" stroke="#555" stroke-width="1"/><path d="M432,174 C436,171 439,176 443,174 C447,172 451,176 455,172" fill="none" stroke="#555" stroke-width="1"/><rect x="434" y="150" width="18" height="31" fill="#eee" opacity="0.6"/></g><defs>
<linearGradient id="cylV" x1="0" y1="0" x2="1" y2="0">
<stop offset="0" stop-color="#d6cdc0"/><stop offset="0.15" stop-color="#ece8e1"/><stop offset="0.45" stop-color="#ebe7e0"/><stop offset="0.8" stop-color="#e0d9ce"/><stop offset="1" stop-color="#d2c9bb"/>
</linearGradient>
<linearGradient id="cylH" x1="0" y1="0" x2="0" y2="1">
<stop offset="0" stop-color="#d8cfc2"/><stop offset="0.3" stop-color="#ece8e1"/><stop offset="0.7" stop-color="#e4ded4"/><stop offset="1" stop-color="#cfc5b7"/>
</linearGradient>
<linearGradient id="blueV" x1="0" y1="0" x2="0" y2="1">
<stop offset="0" stop-color="#f3f6f7"/><stop offset="0.4" stop-color="#e0e8ec"/><stop offset="1" stop-color="#b2c2cb"/>
</linearGradient>
<linearGradient id="blueD" x1="0" y1="0" x2="1" y2="0.3">
<stop offset="0" stop-color="#b9cbd6"/><stop offset="0.4" stop-color="#d5e1e8"/><stop offset="1" stop-color="#e9eff2"/>
</linearGradient>
<linearGradient id="blueP" x1="0" y1="0" x2="1" y2="1">
<stop offset="0" stop-color="#d5e2ea"/><stop offset="0.5" stop-color="#e6eef2"/><stop offset="1" stop-color="#d0dde5"/>
</linearGradient>
<radialGradient id="ball" cx="0.72" cy="0.5" r="0.8">
<stop offset="0" stop-color="#eef3f6"/><stop offset="0.3" stop-color="#dae5eb"/><stop offset="0.6" stop-color="#b3c8d4"/><stop offset="1" stop-color="#7898ab"/>
</radialGradient>
<linearGradient id="pfront" x1="0" y1="0" x2="1" y2="0">
<stop offset="0" stop-color="#e2dbd0"/><stop offset="0.08" stop-color="#eeebe5"/><stop offset="0.3" stop-color="#eae6df"/><stop offset="0.55" stop-color="#e1dacf"/><stop offset="1" stop-color="#dad2c6"/>
</linearGradient>
<linearGradient id="tilt" x1="0" y1="0" x2="1" y2="0" gradientTransform="rotate(-23 0.5 0.5)">
<stop offset="0" stop-color="#d9d1c5"/><stop offset="0.3" stop-color="#ebe7e0"/><stop offset="0.7" stop-color="#e4ded5"/><stop offset="1" stop-color="#d6cdc1"/>
</linearGradient>
<linearGradient id="dome" x1="0" y1="0" x2="1" y2="0">
<stop offset="0" stop-color="#ddd6cb"/><stop offset="0.35" stop-color="#e9e5dd"/><stop offset="0.7" stop-color="#e6e1d8"/><stop offset="1" stop-color="#d8d0c4"/>
</linearGradient>
</defs>
<path d="M140.5,170 C128,171.5 118.5,177 117,186 L124,188 C126,184 132,181 140.5,180.5 Z" fill="#8e9093" stroke="#5d5e60" stroke-width="1.1" stroke-linejoin="round"/>
<g transform="translate(324.5,0) scale(-1,1)"><path d="M140.5,170 C128,171.5 118.5,177 117,186 L124,188 C126,184 132,181 140.5,180.5 Z" fill="#8e9093" stroke="#5d5e60" stroke-width="1.1" stroke-linejoin="round"/>
</g><path d="M106,97.5 L106,128 C107,137 120,145 140,146 L185,148 C208,156 226,175 236,199.5 L285.5,199.5 L284,110 L140,110 C120,110 106,105 106,97.5 Z" fill="url(#pfront)" stroke="#9a8d80" stroke-width="1.0" stroke-linejoin="round"/>
<linearGradient id="notch" x1="0" y1="0" x2="1" y2="1"><stop offset="0" stop-color="#b5aa9b"/><stop offset="0.45" stop-color="#cfc6b9"/><stop offset="1" stop-color="#e2dbd1"/></linearGradient><path d="M185,148 C208,156 226,175 236,199.5 L231,199.5 C226,190 218,181 210,176 C201,171 195,166 191,160 C188,156 186,152 185,148 Z" fill="url(#notch)" stroke="#9a8d80" stroke-width="0.8" stroke-linejoin="round"/>
<path d="M106,97.5 C106,88 117,82 135,82 L235,80.5 L284,110 L140,110 C120,110 106,105 106,97.5 Z" fill="#e7e2da" stroke="#9a8d80" stroke-width="1.0" stroke-linejoin="round"/>
<ellipse cx="160.5" cy="97.5" rx="28.5" ry="8.5" fill="#e0d9cf" stroke="#9a8d80" stroke-width="1"/><path d="M139,79 L139,100 A21.75,5.5 0 0 0 182.5,100 L182.5,79 Z" fill="#bfd0da" stroke="#9a8d80" stroke-width="1.0" stroke-linejoin="round"/>
<path d="M139,79 L139,91 A21.75,5 0 0 0 182.5,91 L182.5,79 Z" fill="url(#cylV)" stroke="#9a8d80" stroke-width="0.6" stroke-linejoin="round"/>
<ellipse cx="160.75" cy="79" rx="21.75" ry="6" fill="#efebe5" stroke="#9a8d80" stroke-width="1"/><path d="M140,146 L140,198.5 A22.2,7.5 0 0 0 184.5,198.5 L184.5,147.5 Z" fill="url(#cylV)" stroke="#9a8d80" stroke-width="1.0" stroke-linejoin="round"/>
<path d="M124,188 C125,193 128,196 131.5,197.5 L131.5,194.5 L142.4,206.7 L131.8,213.5 L131.8,209 C121,207 114.5,198 117,186 Z" fill="#a7a9ac" stroke="#5d5e60" stroke-width="1.1" stroke-linejoin="round"/>
<g transform="translate(324.5,0) scale(-1,1)"><path d="M124,188 C125,193 128,196 131.5,197.5 L131.5,194.5 L142.4,206.7 L131.8,213.5 L131.8,209 C121,207 114.5,198 117,186 Z" fill="#a7a9ac" stroke="#5d5e60" stroke-width="1.1" stroke-linejoin="round"/>
</g><path d="M30,361 L126,361 L126,420 L30,420 C25,420 24,412 24,390 C24,368 25,361 30,361 Z" fill="#e9e5de" stroke="#9a8d80" stroke-width="1.0" stroke-linejoin="round"/>
<path d="M24.3,381 L126,381 L126,420 L30,420 C25,420 24.2,410 24.3,381 Z" fill="url(#blueV)"/><path d="M24.5,381 L126,381" stroke="#c8c0b4" stroke-width="0.8" fill="none"/><path d="M30,420 C25,420 24,412 24,390 C24,368 25,361 30,361 L126,361" stroke="#9a8d80" stroke-width="1" fill="none"/><path d="M30,420 L126,420" stroke="#9aa9b2" stroke-width="1" fill="none"/><ellipse cx="126" cy="390.5" rx="13.5" ry="29.5" fill="#e3ddd3" stroke="#9a8d80" stroke-width="1"/><ellipse cx="128.5" cy="390.5" rx="8.5" ry="25" fill="#eeeae4"/><path d="M56,315.5 L56,366 C60,374 70,377.5 81,377.5 C92,377.5 102,374 106,366 L106,315.5 Z" fill="url(#cylV)" stroke="#9a8d80" stroke-width="1.0" stroke-linejoin="round"/>
<ellipse cx="81" cy="315.5" rx="25" ry="6.5" fill="#efebe5" stroke="#9a8d80" stroke-width="1"/><path d="M87.8,379.6 L95.0,396.0 L104.4,382.9 L99.5,381.9 L99.9,380.4 L100.3,378.9 L100.7,377.5 L101.1,376.1 L101.6,374.8 L102.1,373.5 L102.7,372.2 L103.3,371.0 L103.9,369.9 L104.6,368.8 L105.2,367.7 L106.0,366.7 L106.7,365.7 L107.4,364.8 L108.2,363.9 L109.0,363.1 L109.8,362.3 L110.7,361.5 L111.5,360.8 L112.4,360.2 L113.2,359.5 L114.1,359.0 L115.1,358.4 L116.0,357.9 L116.9,357.5 L117.8,357.1 L118.8,356.7 L119.7,356.4 L120.7,356.2 L121.6,355.9 L122.6,355.7 L123.6,355.6 L124.5,355.5 L125.5,355.4 L126.5,355.4 L127.4,355.5 L128.4,355.5 L129.3,355.6 L130.3,355.8 L131.2,356.0 L132.1,356.2 L133.1,356.5 L134.0,356.8 L134.9,357.2 L135.8,357.6 L136.7,358.1 L137.5,358.6 L138.4,359.1 L139.2,359.7 L140.0,360.4 L140.8,361.1 L141.6,361.8 L142.4,362.6 L143.2,363.4 L143.9,364.3 L144.6,365.2 L145.3,366.2 L145.9,367.2 L146.5,368.3 L147.1,369.4 L147.7,370.6 L148.2,371.9 L148.7,373.1 L144.1,374.9 L155.0,387.0 L160.0,369.0 L155.3,370.7 L154.7,369.2 L154.1,367.7 L153.4,366.3 L152.7,364.9 L151.9,363.6 L151.1,362.3 L150.2,361.1 L149.4,360.0 L148.5,358.8 L147.5,357.8 L146.5,356.8 L145.5,355.8 L144.5,355.0 L143.4,354.1 L142.3,353.3 L141.2,352.6 L140.0,352.0 L138.9,351.4 L137.7,350.8 L136.5,350.3 L135.3,349.9 L134.0,349.5 L132.8,349.2 L131.6,348.9 L130.3,348.7 L129.0,348.6 L127.8,348.5 L126.5,348.4 L125.2,348.4 L124.0,348.5 L122.7,348.7 L121.4,348.8 L120.2,349.1 L118.9,349.4 L117.7,349.7 L116.4,350.1 L115.2,350.6 L114.0,351.1 L112.8,351.7 L111.6,352.3 L110.5,353.0 L109.3,353.7 L108.2,354.5 L107.1,355.3 L106.1,356.2 L105.0,357.2 L104.0,358.1 L103.0,359.2 L102.1,360.3 L101.2,361.4 L100.3,362.6 L99.4,363.8 L98.6,365.1 L97.8,366.5 L97.1,367.8 L96.4,369.3 L95.7,370.7 L95.1,372.3 L94.5,373.8 L94.0,375.4 L93.5,377.1 L93.1,378.8 L92.7,380.6 Z" fill="#a7a9ac" stroke="#5d5e60" stroke-width="1.1" stroke-linejoin="round"/>
<path d="M21.3,458.3 L110,458.3 C112,467 118,474 126,475.7 L59,475.7 C44,475 29,470 21.3,458.3 Z" fill="#e1dbd0" stroke="#9a8d80" stroke-width="1.0" stroke-linejoin="round"/>
<path d="M49.9,440.9 L61,434.5 L146.6,434.5 L137,440.9 Z" fill="#ece8e2" stroke="#9a8d80" stroke-width="1.0" stroke-linejoin="round"/>
<path d="M49.9,440.9 L137,440.9 C137,452 134,460 128.5,463.5 C122,463 118.5,458 116.5,452 L49.9,452 Z" fill="url(#blueV)" stroke="#9a8d80" stroke-width="1.0" stroke-linejoin="round"/>
<path d="M21.3,458.3 L30.9,452 L116.5,452 L110,458.3 Z" fill="#ebe7e0" stroke="#9a8d80" stroke-width="1.0" stroke-linejoin="round"/>
<path d="M110,458.3 L116.5,452 C118.5,458 122,463 128.5,463.5 C134,460 137,452 137,440.9 L146.6,434.5 C148.5,440 148.5,450 146,458 C143,468 136,474.5 126,475.7 C118,474 112,467 110,458.3 Z" fill="#e1dbd0" stroke="#9a8d80" stroke-width="1.0" stroke-linejoin="round"/>
<path d="M57,477 C58,469.5 70,467 82,467 C94,467 106,469.5 107,477 L107,527 A25,5.5 0 0 1 57,527 Z" fill="url(#cylV)" stroke="#9a8d80" stroke-width="1.0" stroke-linejoin="round"/>
<path d="M199.5,815 L199.5,870 A22.1,6 0 0 0 243.7,870 L243.7,815 Z" fill="url(#cylV)" stroke="#9a8d80" stroke-width="1.0" stroke-linejoin="round"/>
<path d="M129.5,744.5 L128.5,744.7 L127.6,744.8 L126.7,744.9 L125.8,745.0 L124.9,745.2 L124.0,745.2 L123.1,745.3 L122.2,745.4 L121.3,745.5 L120.4,745.5 L119.5,745.6 L118.6,745.6 L117.6,745.6 L116.7,745.6 L115.8,745.6 L114.9,745.6 L114.0,745.6 L113.1,745.6 L112.2,745.5 L111.3,745.5 L110.4,745.4 L109.5,745.3 L108.6,745.3 L107.8,745.2 L106.9,745.1 L106.0,744.9 L105.1,744.8 L104.2,744.7 L103.3,744.5 L102.5,744.3 L101.6,744.2 L100.7,744.0 L99.9,743.8 L99.0,743.6 L98.2,743.3 L97.3,743.1 L96.5,742.8 L95.7,742.6 L94.8,742.3 L94.0,742.0 L93.2,741.7 L92.4,741.4 L91.5,741.1 L90.7,740.7 L89.9,740.4 L89.1,740.0 L88.4,739.6 L87.6,739.2 L86.8,738.8 L86.0,738.4 L85.3,738.0 L84.5,737.5 L83.8,737.1 L83.0,736.6 L82.3,736.1 L81.6,735.6 L80.8,735.1 L80.1,734.5 L79.4,734.0 L78.7,733.4 L78.0,732.8 L77.3,732.2 L76.7,731.6 L76.0,731.0 L75.3,730.4 L74.7,729.7 L78.6,725.9 L63.5,720.5 L65.7,738.4 L69.7,734.6 L70.4,735.3 L71.2,736.1 L71.9,736.8 L72.7,737.5 L73.5,738.2 L74.3,738.8 L75.1,739.5 L75.9,740.1 L76.7,740.7 L77.5,741.3 L78.3,741.9 L79.2,742.4 L80.0,743.0 L80.9,743.5 L81.7,744.0 L82.6,744.5 L83.5,745.0 L84.4,745.5 L85.3,745.9 L86.2,746.3 L87.1,746.8 L88.0,747.2 L88.9,747.5 L89.8,747.9 L90.7,748.3 L91.6,748.6 L92.6,748.9 L93.5,749.2 L94.4,749.5 L95.4,749.8 L96.3,750.1 L97.3,750.3 L98.2,750.6 L99.2,750.8 L100.2,751.0 L101.1,751.2 L102.1,751.4 L103.1,751.6 L104.0,751.7 L105.0,751.9 L106.0,752.0 L107.0,752.1 L107.9,752.2 L108.9,752.3 L109.9,752.4 L110.9,752.5 L111.9,752.5 L112.9,752.6 L113.8,752.6 L114.8,752.6 L115.8,752.6 L116.8,752.6 L117.8,752.6 L118.8,752.6 L119.8,752.6 L120.7,752.5 L121.7,752.4 L122.7,752.4 L123.7,752.3 L124.7,752.2 L125.7,752.1 L126.6,752.0 L127.6,751.9 L128.6,751.7 L129.6,751.6 L130.5,751.5 Z" fill="#a7a9ac" stroke="#5d5e60" stroke-width="1.1" stroke-linejoin="round"/>
<path d="M117.9,740.6 L175.7,719 L241.4,712.3 L289,728 C260,730 232,733 223.2,737.2 C210,743 202,750 197.2,758.7 L140.6,744 Z" fill="#e8e3db" stroke="#9a8d80" stroke-width="1.0" stroke-linejoin="round"/>
<path d="M140.6,744 L197,727" stroke="#9a8d80" stroke-width="0.9" fill="none"/><path d="M117.9,740.6 L140.6,744 L144,802 C133,796 121,780 118.5,762 Z" fill="#dcd4c8" stroke="#9a8d80" stroke-width="1.0" stroke-linejoin="round"/>
<path d="M198.3,675.5 L198.3,732 A22.65,5 0 0 0 243.6,732 L243.6,675.5 Z" fill="url(#cylV)" stroke="#9a8d80" stroke-width="1.0" stroke-linejoin="round"/>
<ellipse cx="220.95" cy="675.5" rx="22.65" ry="7" fill="#efebe5" stroke="#9a8d80" stroke-width="1"/><path d="M178,827 C195,819 206,808 216.5,800.6 L228,796 L246,800 C247,815 250,828 256,839 C240,836 214,830 192,826 Z" fill="#e0d9ce" stroke="#9a8d80" stroke-width="1.0" stroke-linejoin="round"/>
<path d="M140.6,744 L197.2,758.7 C197,790 192,815 177,827.5 C160,830 148,816 144,796 C142,780 141,760 140.6,744 Z" fill="url(#cylV)" stroke="#9a8d80" stroke-width="1.0" stroke-linejoin="round"/>
<path d="M197.2,758.7 C202,750 210,743 223.2,737.2 C235,732 260,730 289,729.3 L289,755.3 L232.3,774.5 C229,780 229,790 227.8,796 C224,799 219,800 216.5,800.6 C205,808 193,820 177,827.5 C192,815 197,790 197.2,758.7 Z" fill="url(#blueD)" stroke="#9a8d80" stroke-width="1.0" stroke-linejoin="round"/>
<ellipse cx="219" cy="800" rx="5" ry="2" fill="#c7a9a0" opacity="0.6"/><path d="M230,775.7 L289,755.3 L304.8,761 L244.8,781.3 Z" fill="#e8e3db" stroke="#9a8d80" stroke-width="1.0" stroke-linejoin="round"/>
<path d="M230,775.7 L244.8,781.3 L245.5,800 L228,796 Z" fill="#ddd5c9" stroke="#9a8d80" stroke-width="1.0" stroke-linejoin="round"/>
<path d="M244.8,781.3 L304.8,761 C306,795 298,830 274,841.5 C258,840 248,822 245.5,800 Z" fill="url(#cylV)" stroke="#9a8d80" stroke-width="1.0" stroke-linejoin="round"/>
<path d="M163,790 C143,788 122,795 110,808 L106,804.5 L99.3,823.3 L117,813.5 L113,810.5 C124,799 143,793 163,795.5 Z" fill="#a7a9ac" stroke="#5d5e60" stroke-width="1.1" stroke-linejoin="round"/>
<path d="M281,721.5 C300,713 322,716 331,735 L325.2,735.5 L342.2,752 L343,730.5 L337,732.5 C327,711 302,707 281,716 Z" fill="#a7a9ac" stroke="#5d5e60" stroke-width="1.1" stroke-linejoin="round"/>
<path d="M276,797 C296,806 318,805 329,787 L324.5,784.5 L342.2,770.6 L342.5,792 L335,789.5 C322,810 297,812 276,803 Z" fill="#a7a9ac" stroke="#5d5e60" stroke-width="1.1" stroke-linejoin="round"/>
<path d="M577,746 L660.5,808.7 L660.5,817 L577,754 Z" fill="#97b3c2" stroke="#7c97a6" stroke-width="1.0" stroke-linejoin="round"/>
<path d="M660.5,808.7 L796.4,796 L796.4,804 L660.5,817 Z" fill="#a9c2cf" stroke="#7c97a6" stroke-width="1.0" stroke-linejoin="round"/>
<path d="M577,746 L718.5,746.4 L796.4,796 L660.5,808.7 Z" fill="#bcd0db" stroke="#7c97a6" stroke-width="1.0" stroke-linejoin="round"/>
<path d="M652,753 L598,757 L602.5,766.3 L564.2,760.6 L581.2,752 L584,755.5 L652,748 Z" fill="#a7a9ac" stroke="#5d5e60" stroke-width="1.1" stroke-linejoin="round"/>
<path d="M619.5,750 L717,752 L745.5,777.6 L673,783 Z" fill="#c8dae3" stroke="#7c97a6" stroke-width="1.0" stroke-linejoin="round"/>
<path d="M673,783 L745.5,777.6 L745.5,785.5 L673,791 Z" fill="#a9c2cf" stroke="#7c97a6" stroke-width="1.0" stroke-linejoin="round"/>
<path d="M619.5,750 L673,783 L673,791 L619.5,758 Z" fill="#97b3c2" stroke="#7c97a6" stroke-width="1.0" stroke-linejoin="round"/>
<path d="M655,733 L640,719 L645,716 L616.6,708.2 L621,723 L626,720 L650,739 Z" fill="#a7a9ac" stroke="#5d5e60" stroke-width="1.1" stroke-linejoin="round"/>
<path d="M715,752 L770,749 L778,756.4 L800.6,746.4 L762.4,740.8 L766,744 L715,746 Z" fill="#a7a9ac" stroke="#5d5e60" stroke-width="1.1" stroke-linejoin="round"/>
<path d="M700,767 L742,805 L735.5,810 L769.5,821.5 L769.5,803 L764,806 L708,762 Z" fill="#a7a9ac" stroke="#5d5e60" stroke-width="1.1" stroke-linejoin="round"/>
<path d="M652,692.6 L652,767.5 A32.5,10 0 0 0 717,767.5 L717,692.6 Z" fill="url(#cylV)" stroke="#9a8d80" stroke-width="1.0" stroke-linejoin="round"/>
<ellipse cx="684.5" cy="692.6" rx="32.5" ry="10" fill="#ebe6de" stroke="#9a8d80" stroke-width="1"/>
<path d="M770,512 L770,571 A25.5,5.5 0 0 0 821,571 L821,512 Z" fill="url(#cylV)" stroke="#9a8d80" stroke-width="1.0" stroke-linejoin="round"/>
<path d="M739.1,466.2 L741.4,447.2 L741.8,444.4 L742.5,441.9 L743.6,439.5 L745.1,437.3 L747.0,435.4 L749.2,433.7 L751.7,432.3 L754.6,431.2 L757.8,430.3 L761.2,429.8 L764.8,429.5 L768.7,429.5 L772.8,429.8 L777.0,430.4 L781.3,431.2 L785.7,432.4 L790.2,433.8 L794.7,435.5 L799.2,437.5 L803.6,439.6 L808.0,442.0 L812.2,444.6 L816.3,447.4 L820.3,450.3 L824.0,453.3 L827.5,456.5 L830.7,459.8 L833.6,463.1 L836.2,466.4 L838.5,469.8 L840.5,473.1 L842.0,476.4 L843.2,479.7 L844.1,482.8 L844.5,485.9 L844.6,488.8 L844.2,491.6 L843.5,494.1 L837.8,511.1 L836.6,513.5 L835.1,515.7 L833.3,517.6 L831.1,519.3 L828.6,520.7 L825.8,521.9 L822.8,522.8 L819.4,523.4 L815.8,523.8 L812.1,523.8 L808.1,523.6 L804.0,523.1 L799.8,522.2 L795.5,521.2 L791.2,519.8 L786.8,518.2 L782.5,516.4 L778.2,514.3 L774.0,512.0 L769.9,509.5 L766.0,506.8 L762.2,504.0 L758.6,501.0 L755.3,497.9 L752.2,494.8 L749.4,491.5 L746.9,488.2 L744.7,484.9 L742.9,481.6 L741.4,478.4 L740.2,475.2 L739.5,472.1 L739.1,469.0 Z" fill="#e8e3dc" stroke="#9a8d80" stroke-width="1.0" stroke-linejoin="round"/>
<ellipse cx="793" cy="468" rx="57" ry="30" transform="rotate(30 793 468)" fill="#e0d9cf" stroke="#9a8d80" stroke-width="0.9"/><ellipse cx="795" cy="465" rx="52" ry="25" transform="rotate(30 795 465)" fill="url(#blueP)" stroke="#a8bbc6" stroke-width="0.8"/><path d="M768,331.5 L768,400 L820,400 L820,331.5 Z" fill="url(#cylV)" stroke="#9a8d80" stroke-width="1.0" stroke-linejoin="round"/>
<ellipse cx="794.0" cy="331.5" rx="26.0" ry="8.5" fill="#ebe6de" stroke="#9a8d80" stroke-width="1"/>
<path d="M768,372 C757,370 748,378 745,392 C742,410 748,430 760,443 C775,458 795,465 815,464 C835,463 848,450 847,432 C846,410 838,392 822,377 L820,372 L820,405 C818,418 808,424 798,424 C786,424 776,418 772,408 L768,372 Z" fill="#e0d9ce" stroke="#9a8d80" stroke-width="1.0" stroke-linejoin="round"/>
<path d="M768,372 L768,400 C770,415 782,424 798,424 C808,424 818,418 820,405 L820,372 Z" fill="url(#cylV)" stroke="#9a8d80" stroke-width="0" stroke-linejoin="round"/>
<path d="M768,372 L768,400 C770,415 782,424 798,424 C808,424 818,418 820,405 L820,372" fill="none" stroke="#9a8d80" stroke-width="0.9"/><path d="M764,357 C790,362 812,378 820,400 C826,418 824,440 816,458 L818.8,469 L799.8,478.4 L798,459.4 L808,460 C814,443 816,422 811,406 C804,388 787,375 764,366 L764,372 L746.6,357 L764,350 Z" fill="#a7a9ac" stroke="#5d5e60" stroke-width="1.1" stroke-linejoin="round"/>
<path d="M756,418 C770,405 790,396 812,396 C832,396 848,408 857,432 L849,445 L868,459.4 L869.5,436.4 L864,436 C856,408 836,390 812,389 C788,388 766,398 750,411 L742,409.5 L737,431.7 L759.3,424.5 Z" fill="#a7a9ac" stroke="#5d5e60" stroke-width="1.1" stroke-linejoin="round"/>
<path d="M701.3,121 L701.3,252 A22.850000000000023,5.5 0 0 0 747,252 L747,121 Z" fill="url(#cylV)" stroke="#9a8d80" stroke-width="1.0" stroke-linejoin="round"/>
<circle cx="723" cy="95" r="36" fill="url(#ball)" stroke="#8fa8b6" stroke-width="0.8"/><path d="M701.3,124 C706,118.5 740,117.5 747,122 L747,134 L701.3,134 Z" fill="url(#cylV)"/><path d="M701.3,124 C706,118.5 740,117.5 747,122" fill="none" stroke="#9a8d80" stroke-width="1"/><path d="M668.7,25.5 C671,16 690,6 708,5 C712,5 714.5,5.3 715.4,6 L735,52 L687,68 Z" fill="url(#tilt)" stroke="#9a8d80" stroke-width="1.0" stroke-linejoin="round"/>
<path d="M673.6,109.3 C672.5,95 677,82 684,71 C693,59 705,52 718,49.8 C735,47.5 752,55 762,66 C766,70.5 769,75 770,79.4 C760,75 748,74.5 741.5,75.3 C730,77 722,81 714.4,84.8 C700,91 685,100 673.6,109.3 Z" fill="url(#dome)" stroke="#9a8d80" stroke-width="1.0" stroke-linejoin="round"/>
<path d="M673.6,109.3 C685,100 700,91 714.4,84.8 C722,81 730,77 741.5,75.3 C748,74.5 760,75 770,79.4 C771,83 769.5,85 767,86 C757,84 746,85 739,87 C722,92 706,99 692,107 C686,110.5 681,113.5 677,115.5 C674.5,114.5 673.5,112 673.6,109.3 Z" fill="#d2c9bc" stroke="#9a8d80" stroke-width="1.0" stroke-linejoin="round"/>
<path d="M701.9,141.2 L692.0,129.0 L685.4,145.4 L690.1,144.2 L690.5,145.9 L691.0,147.6 L691.6,149.1 L692.2,150.7 L692.8,152.2 L693.5,153.6 L694.3,155.0 L695.1,156.3 L695.9,157.6 L696.8,158.8 L697.7,160.0 L698.6,161.1 L699.6,162.2 L700.6,163.2 L701.6,164.1 L702.7,165.0 L703.8,165.8 L705.0,166.6 L706.1,167.3 L707.3,168.0 L708.5,168.6 L709.7,169.1 L711.0,169.6 L712.2,170.0 L713.5,170.3 L714.8,170.6 L716.1,170.8 L717.4,171.0 L718.8,171.1 L720.1,171.1 L721.4,171.1 L722.7,171.0 L724.1,170.8 L725.4,170.6 L726.7,170.3 L728.0,170.0 L729.3,169.5 L730.6,169.1 L731.9,168.5 L733.2,167.9 L734.5,167.3 L735.7,166.5 L736.9,165.7 L738.1,164.9 L739.3,164.0 L740.5,163.0 L741.6,162.0 L742.7,160.9 L743.8,159.8 L744.9,158.5 L745.9,157.3 L746.9,156.0 L747.9,154.6 L748.8,153.1 L749.7,151.6 L750.6,150.1 L751.4,148.4 L752.2,146.8 L753.0,145.0 L753.7,143.2 L754.4,141.4 L755.0,139.5 L755.6,137.5 L756.1,135.5 L756.6,133.4 L761.3,134.4 L755.0,117.0 L744.7,130.7 L749.3,131.8 L748.9,133.6 L748.4,135.5 L747.9,137.2 L747.3,138.9 L746.7,140.6 L746.1,142.1 L745.4,143.7 L744.7,145.1 L744.0,146.5 L743.2,147.9 L742.5,149.2 L741.7,150.4 L740.9,151.5 L740.0,152.7 L739.2,153.7 L738.3,154.7 L737.4,155.6 L736.5,156.5 L735.6,157.4 L734.6,158.1 L733.7,158.9 L732.7,159.5 L731.8,160.1 L730.8,160.7 L729.9,161.2 L728.9,161.7 L727.9,162.1 L726.9,162.4 L725.9,162.8 L725.0,163.0 L724.0,163.2 L723.0,163.4 L722.0,163.5 L721.0,163.6 L720.1,163.6 L719.1,163.6 L718.1,163.5 L717.2,163.4 L716.2,163.3 L715.3,163.0 L714.4,162.8 L713.5,162.5 L712.6,162.2 L711.7,161.8 L710.8,161.3 L709.9,160.9 L709.0,160.3 L708.2,159.7 L707.4,159.1 L706.6,158.5 L705.8,157.7 L705.0,157.0 L704.2,156.1 L703.5,155.3 L702.8,154.4 L702.1,153.4 L701.5,152.4 L700.8,151.3 L700.2,150.2 L699.7,149.0 L699.1,147.8 L698.6,146.5 L698.1,145.2 L697.7,143.8 L697.3,142.4 Z" fill="#a7a9ac" stroke="#5d5e60" stroke-width="1.1" stroke-linejoin="round"/>
<path d="M688.6,180.9 L673.0,174.0 L675.1,192.8 L679.0,189.3 L680.2,190.6 L681.4,191.9 L682.6,193.1 L683.9,194.3 L685.1,195.4 L686.4,196.5 L687.7,197.6 L689.0,198.6 L690.4,199.5 L691.8,200.4 L693.1,201.3 L694.5,202.1 L695.9,202.9 L697.4,203.6 L698.8,204.3 L700.3,205.0 L701.7,205.6 L703.2,206.1 L704.7,206.6 L706.2,207.1 L707.7,207.5 L709.2,207.9 L710.7,208.2 L712.3,208.5 L713.8,208.8 L715.3,208.9 L716.9,209.1 L718.4,209.2 L720.0,209.2 L721.5,209.2 L723.1,209.2 L724.6,209.1 L726.2,209.0 L727.7,208.8 L729.3,208.6 L730.8,208.3 L732.4,208.0 L733.9,207.6 L735.4,207.2 L736.9,206.7 L738.4,206.2 L739.9,205.7 L741.4,205.1 L742.9,204.4 L744.4,203.7 L745.8,203.0 L747.3,202.2 L748.7,201.4 L750.1,200.5 L751.5,199.5 L752.9,198.6 L754.3,197.5 L755.6,196.5 L756.9,195.3 L758.3,194.2 L759.5,193.0 L760.8,191.7 L762.1,190.4 L763.3,189.1 L764.5,187.7 L765.6,186.2 L766.8,184.7 L767.9,183.2 L772.2,186.2 L772.5,167.7 L757.5,175.8 L761.8,178.8 L760.8,180.2 L759.8,181.6 L758.7,182.9 L757.6,184.1 L756.6,185.3 L755.5,186.5 L754.3,187.6 L753.2,188.6 L752.0,189.7 L750.9,190.7 L749.7,191.6 L748.5,192.5 L747.3,193.4 L746.1,194.2 L744.8,194.9 L743.6,195.7 L742.3,196.4 L741.1,197.0 L739.8,197.6 L738.5,198.2 L737.2,198.7 L735.9,199.2 L734.6,199.6 L733.3,200.0 L732.0,200.4 L730.7,200.7 L729.4,200.9 L728.1,201.2 L726.8,201.4 L725.4,201.5 L724.1,201.6 L722.8,201.7 L721.5,201.8 L720.1,201.7 L718.8,201.7 L717.5,201.6 L716.2,201.5 L714.8,201.3 L713.5,201.1 L712.2,200.9 L710.9,200.6 L709.6,200.3 L708.3,199.9 L707.0,199.5 L705.7,199.1 L704.5,198.6 L703.2,198.1 L702.0,197.5 L700.7,196.9 L699.5,196.3 L698.3,195.6 L697.0,194.9 L695.8,194.1 L694.7,193.3 L693.5,192.5 L692.3,191.6 L691.2,190.7 L690.0,189.8 L688.9,188.8 L687.8,187.7 L686.8,186.7 L685.7,185.5 L684.7,184.4 Z" fill="#a7a9ac" stroke="#5d5e60" stroke-width="1.1" stroke-linejoin="round"/>
<path d="M702,226 C688,228 678,233 676,241 L684,243 C687,239 694,237 702,236.5 Z" fill="#8e9093" stroke="#5d5e60" stroke-width="1.1" stroke-linejoin="round"/>
<path d="M684,243 C685,248 688,251.5 692,253 L692,249.5 L703,262 L692,272.5 L692,266.5 C683,264 675,255 676,241 Z" fill="#a7a9ac" stroke="#5d5e60" stroke-width="1.1" stroke-linejoin="round"/>
<g transform="translate(1448.3,0) scale(-1,1)"><path d="M702,226 C688,228 678,233 676,241 L684,243 C687,239 694,237 702,236.5 Z" fill="#8e9093" stroke="#5d5e60" stroke-width="1.1" stroke-linejoin="round"/>
<path d="M684,243 C685,248 688,251.5 692,253 L692,249.5 L703,262 L692,272.5 L692,266.5 C683,264 675,255 676,241 Z" fill="#a7a9ac" stroke="#5d5e60" stroke-width="1.1" stroke-linejoin="round"/>
</g><g id="boxes" fill="#ffffff" fill-opacity="0.42" stroke="#231f20" stroke-width="2">
<rect x="427" y="149" width="31" height="32"/>
<rect x="304" y="336" width="54" height="54"/>
<rect x="264.5" y="475" width="54.5" height="54"/>
<rect x="463" y="422" width="55" height="54"/>
<rect x="556" y="467.5" width="55" height="54.5"/>
<rect x="451" y="906" width="54.5" height="55"/>
</g>
<g id="arrows" fill="#6d6e71" stroke="#231f20" stroke-width="1.6" stroke-linejoin="miter">
<polygon points="289,152.6 319,139 318,149 427,165.5 427,167 317,162.6 315.3,170.7"/>
<polygon points="158.2,418 179.9,395.3 182.6,405.3 304,366.5 304,368 186.2,416.2 188,426.1"/>
<polygon points="230.4,652 225.4,620.8 234.5,624 280.5,530 282,530.5 246.7,629 255.7,632.6"/>
<polygon points="624.6,799.9 593.4,805.8 599.5,813 505.3,906 506,907 609.8,822.7 616,828.6"/>
<polygon points="720,431.2 687.6,430.9 692.8,439.3 611,488.8 611,490 698.6,451.1 703.8,459.2"/>
<polygon points="670.8,210.8 640.8,224 649.4,229.1 517,421.5 518,422.5 659.1,236.8 667.3,242.4"/>
</g>
<g id="labels" opacity="0.99">
<text x="110.5" y="233.3">(a) Pivot joint</text>
<text x="133.2" y="249.2">(between C1 and</text>
<text x="133.2" y="265">C2 vertebrae)</text>
<text x="31.7" y="556.8">(b) Hinge joint</text>
<text x="54.2" y="571.8">(elbow)</text>
<text x="144.6" y="904.4">(c) Saddle joint</text>
<text x="166.6" y="920.3">(between trapezium</text>
<text x="166.6" y="936.6">carpal bone and 1st</text>
<text x="166.6" y="952.7">metacarpal bone)</text>
<text x="646.2" y="839">(d) Plane joint</text>
<text x="668.8" y="854.6">(between tarsal bones)</text>
<text x="703.4" y="600.8">(e) Condyloid joint</text>
<text x="725.9" y="616.7">(between radius and</text>
<text x="725.9" y="632.9">carpal bones of wrist)</text>
<text x="513.2" y="68.3">(f) Ball-and-socket joint</text>
<text x="532" y="84.2">(hip joint)</text>
</g>
</svg>
</body></html>
